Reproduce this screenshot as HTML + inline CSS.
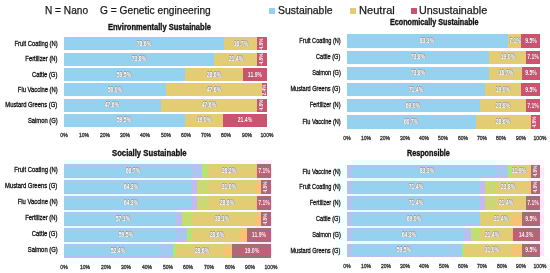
<!DOCTYPE html><html><head><meta charset="utf-8"><style>
html,body{margin:0;padding:0;background:#fff;width:550px;height:273px;overflow:hidden;position:relative;font-family:"Liberation Sans", sans-serif;}
.a{position:absolute;white-space:nowrap;line-height:1;}
.s{position:absolute;}
.v{position:absolute;white-space:nowrap;line-height:1;color:#fff;font-size:6.6px;font-weight:bold;text-shadow:0.4px 0 0 #959595,-0.4px 0 0 #959595,0 0.4px 0 #959595,0 -0.4px 0 #959595;}
.vr{color:#fff;text-shadow:0 0 0.5px #8a2a48;}
.cl{position:absolute;white-space:nowrap;line-height:1;color:#111;transform-origin:100% 50%;-webkit-text-stroke:0.3px #111;}
.ax{position:absolute;white-space:nowrap;line-height:1;color:#2a2a2a;font-size:6px;transform:translate(-50%,-50%) scaleX(0.84);-webkit-text-stroke:0.3px #2a2a2a;}
#w{position:absolute;left:0;top:0;width:550px;height:273px;filter:blur(0.35px);background:#fff;}
</style></head><body><div id="w">

<div class="a" style="left:45.19px;top:5.08px;font-size:10.72px;font-weight:normal;color:#1a1a1a;transform-origin:0 0;transform:scaleX(0.9437);-webkit-text-stroke:0.25px #1a1a1a;">N = Nano</div>
<div class="a" style="left:99.89px;top:5.08px;font-size:10.72px;font-weight:normal;color:#1a1a1a;transform-origin:0 0;transform:scaleX(0.9506);-webkit-text-stroke:0.25px #1a1a1a;">G = Genetic engineering</div>
<div class="s" style="left:269.00px;top:8.00px;width:6.00px;height:6.00px;background:#94d2f0"></div>
<div class="s" style="left:350.00px;top:8.00px;width:6.00px;height:6.00px;background:#e3cc74"></div>
<div class="s" style="left:411.00px;top:8.00px;width:6.00px;height:6.00px;background:#ca5370"></div>
<div class="a" style="left:277.68px;top:4.96px;font-size:10.87px;font-weight:normal;color:#1a1a1a;transform-origin:0 0;transform:scaleX(0.9612);-webkit-text-stroke:0.25px #1a1a1a;">Sustainable</div>
<div class="a" style="left:358.61px;top:4.96px;font-size:10.87px;font-weight:normal;color:#1a1a1a;transform-origin:0 0;transform:scaleX(1.0216);-webkit-text-stroke:0.25px #1a1a1a;">Neutral</div>
<div class="a" style="left:418.64px;top:4.96px;font-size:10.87px;font-weight:normal;color:#1a1a1a;transform-origin:0 0;transform:scaleX(0.9911);-webkit-text-stroke:0.25px #1a1a1a;">Unsustainable</div>
<div class="s" style="left:64.00px;top:37.30px;width:159.56px;height:13.20px;background:#94d2f0"></div>
<div class="s" style="left:223.56px;top:37.30px;width:33.90px;height:13.20px;background:#e3cc74"></div>
<div class="s" style="left:257.46px;top:37.30px;width:9.54px;height:13.20px;background:#ca5370"></div>
<div class="cl" style="right:492.60px;top:40.00px;font-size:7.0px;transform:scaleX(0.835);">Fruit Coating (N)</div>
<div class="v" style="left:143.78px;top:43.90px;transform:translate(-50%,-50%) scaleX(0.78)">78.6%</div>
<div class="v" style="left:240.51px;top:43.90px;transform:translate(-50%,-50%) scaleX(0.78)">16.7%</div>
<div class="v vr" style="left:262.23px;top:43.90px;transform:translate(-50%,-50%) rotate(-90deg) scaleX(0.85);font-size:5.6px">4.8%</div>
<div class="s" style="left:64.00px;top:52.60px;width:149.81px;height:13.20px;background:#94d2f0"></div>
<div class="s" style="left:213.81px;top:52.60px;width:43.44px;height:13.20px;background:#e3cc74"></div>
<div class="s" style="left:257.26px;top:52.60px;width:9.74px;height:13.20px;background:#ca5370"></div>
<div class="cl" style="right:492.60px;top:55.30px;font-size:7.0px;transform:scaleX(0.835);">Fertilizer (N)</div>
<div class="v" style="left:138.91px;top:59.20px;transform:translate(-50%,-50%) scaleX(0.78)">73.8%</div>
<div class="v" style="left:235.53px;top:59.20px;transform:translate(-50%,-50%) scaleX(0.78)">21.4%</div>
<div class="v vr" style="left:262.13px;top:59.20px;transform:translate(-50%,-50%) rotate(-90deg) scaleX(0.85);font-size:5.6px">4.8%</div>
<div class="s" style="left:64.00px;top:67.90px;width:120.78px;height:13.20px;background:#94d2f0"></div>
<div class="s" style="left:184.78px;top:67.90px;width:58.06px;height:13.20px;background:#e3cc74"></div>
<div class="s" style="left:242.84px;top:67.90px;width:24.16px;height:13.20px;background:#ca5370"></div>
<div class="cl" style="right:492.60px;top:70.60px;font-size:7.0px;transform:scaleX(0.835);">Cattle (G)</div>
<div class="v" style="left:124.39px;top:74.50px;transform:translate(-50%,-50%) scaleX(0.78)">59.5%</div>
<div class="v" style="left:213.81px;top:74.50px;transform:translate(-50%,-50%) scaleX(0.78)">28.6%</div>
<div class="v vr" style="left:254.92px;top:74.50px;transform:translate(-50%,-50%) scaleX(0.78)">11.9%</div>
<div class="s" style="left:64.00px;top:83.20px;width:101.50px;height:13.20px;background:#94d2f0"></div>
<div class="s" style="left:165.50px;top:83.20px;width:96.63px;height:13.20px;background:#e3cc74"></div>
<div class="s" style="left:262.13px;top:83.20px;width:4.87px;height:13.20px;background:#ca5370"></div>
<div class="cl" style="right:492.60px;top:85.90px;font-size:7.0px;transform:scaleX(0.835);">Flu Vaccine (N)</div>
<div class="v" style="left:114.75px;top:89.80px;transform:translate(-50%,-50%) scaleX(0.78)">50.0%</div>
<div class="v" style="left:213.81px;top:89.80px;transform:translate(-50%,-50%) scaleX(0.78)">47.6%</div>
<div class="v vr" style="left:264.56px;top:89.80px;transform:translate(-50%,-50%) rotate(-90deg) scaleX(0.85);font-size:5.6px">2.4%</div>
<div class="s" style="left:64.00px;top:98.50px;width:96.63px;height:13.20px;background:#94d2f0"></div>
<div class="s" style="left:160.63px;top:98.50px;width:96.63px;height:13.20px;background:#e3cc74"></div>
<div class="s" style="left:257.26px;top:98.50px;width:9.74px;height:13.20px;background:#ca5370"></div>
<div class="cl" style="right:492.60px;top:101.20px;font-size:7.0px;transform:scaleX(0.835);">Mustard Greens (G)</div>
<div class="v" style="left:112.31px;top:105.10px;transform:translate(-50%,-50%) scaleX(0.78)">47.6%</div>
<div class="v" style="left:208.94px;top:105.10px;transform:translate(-50%,-50%) scaleX(0.78)">47.6%</div>
<div class="v vr" style="left:262.13px;top:105.10px;transform:translate(-50%,-50%) rotate(-90deg) scaleX(0.85);font-size:5.6px">4.8%</div>
<div class="s" style="left:64.00px;top:113.80px;width:120.78px;height:13.20px;background:#94d2f0"></div>
<div class="s" style="left:184.78px;top:113.80px;width:38.57px;height:13.20px;background:#e3cc74"></div>
<div class="s" style="left:223.35px;top:113.80px;width:43.65px;height:13.20px;background:#ca5370"></div>
<div class="cl" style="right:492.60px;top:116.50px;font-size:7.0px;transform:scaleX(0.835);">Salmon (G)</div>
<div class="v" style="left:124.39px;top:120.40px;transform:translate(-50%,-50%) scaleX(0.78)">59.5%</div>
<div class="v" style="left:204.07px;top:120.40px;transform:translate(-50%,-50%) scaleX(0.78)">19.0%</div>
<div class="v vr" style="left:245.18px;top:120.40px;transform:translate(-50%,-50%) scaleX(0.78)">21.4%</div>
<div class="a" style="left:108.17px;top:22.79px;font-size:8.84px;font-weight:bold;color:#111;transform-origin:0 0;transform:scaleX(0.8527);-webkit-text-stroke:0.35px #111;">Environmentally Sustainable</div>
<div class="ax" style="left:64.00px;top:135.30px">0%</div>
<div class="ax" style="left:84.30px;top:135.30px">10%</div>
<div class="ax" style="left:104.60px;top:135.30px">20%</div>
<div class="ax" style="left:124.90px;top:135.30px">30%</div>
<div class="ax" style="left:145.20px;top:135.30px">40%</div>
<div class="ax" style="left:165.50px;top:135.30px">50%</div>
<div class="ax" style="left:185.80px;top:135.30px">60%</div>
<div class="ax" style="left:206.10px;top:135.30px">70%</div>
<div class="ax" style="left:226.40px;top:135.30px">80%</div>
<div class="ax" style="left:246.70px;top:135.30px">90%</div>
<div class="ax" style="left:267.00px;top:135.30px">100%</div>
<div class="s" style="left:346.70px;top:34.30px;width:161.02px;height:13.40px;background:#94d2f0"></div>
<div class="s" style="left:507.72px;top:34.30px;width:13.72px;height:13.40px;background:#e3cc74"></div>
<div class="s" style="left:521.44px;top:34.30px;width:18.56px;height:13.40px;background:#ca5370"></div>
<div class="cl" style="right:209.70px;top:36.50px;font-size:7.0px;transform:scaleX(0.8);">Fruit Coating (N)</div>
<div class="v" style="left:427.21px;top:41.00px;transform:translate(-50%,-50%) scaleX(0.78)">83.3%</div>
<div class="v" style="left:514.58px;top:41.00px;transform:translate(-50%,-50%) scaleX(0.78)">7.1%</div>
<div class="v vr" style="left:530.72px;top:41.00px;transform:translate(-50%,-50%) scaleX(0.78)">9.5%</div>
<div class="s" style="left:346.70px;top:50.50px;width:142.66px;height:13.40px;background:#94d2f0"></div>
<div class="s" style="left:489.36px;top:50.50px;width:36.73px;height:13.40px;background:#e3cc74"></div>
<div class="s" style="left:526.08px;top:50.50px;width:13.92px;height:13.40px;background:#ca5370"></div>
<div class="cl" style="right:209.70px;top:52.70px;font-size:7.0px;transform:scaleX(0.8);">Cattle (G)</div>
<div class="v" style="left:418.03px;top:57.20px;transform:translate(-50%,-50%) scaleX(0.78)">73.8%</div>
<div class="v" style="left:507.72px;top:57.20px;transform:translate(-50%,-50%) scaleX(0.78)">19.0%</div>
<div class="v vr" style="left:533.04px;top:57.20px;transform:translate(-50%,-50%) scaleX(0.78)">7.1%</div>
<div class="s" style="left:346.70px;top:66.70px;width:142.66px;height:13.40px;background:#94d2f0"></div>
<div class="s" style="left:489.36px;top:66.70px;width:32.28px;height:13.40px;background:#e3cc74"></div>
<div class="s" style="left:521.64px;top:66.70px;width:18.36px;height:13.40px;background:#ca5370"></div>
<div class="cl" style="right:209.70px;top:68.90px;font-size:7.0px;transform:scaleX(0.8);">Salmon (G)</div>
<div class="v" style="left:418.03px;top:73.40px;transform:translate(-50%,-50%) scaleX(0.78)">73.8%</div>
<div class="v" style="left:505.50px;top:73.40px;transform:translate(-50%,-50%) scaleX(0.78)">16.7%</div>
<div class="v vr" style="left:530.82px;top:73.40px;transform:translate(-50%,-50%) scaleX(0.78)">9.5%</div>
<div class="s" style="left:346.70px;top:82.90px;width:138.02px;height:13.40px;background:#94d2f0"></div>
<div class="s" style="left:484.72px;top:82.90px;width:36.73px;height:13.40px;background:#e3cc74"></div>
<div class="s" style="left:521.44px;top:82.90px;width:18.56px;height:13.40px;background:#ca5370"></div>
<div class="cl" style="right:209.70px;top:85.10px;font-size:7.0px;transform:scaleX(0.8);">Mustard Greens (G)</div>
<div class="v" style="left:415.71px;top:89.60px;transform:translate(-50%,-50%) scaleX(0.78)">71.4%</div>
<div class="v" style="left:503.08px;top:89.60px;transform:translate(-50%,-50%) scaleX(0.78)">19.0%</div>
<div class="v vr" style="left:530.72px;top:89.60px;transform:translate(-50%,-50%) scaleX(0.78)">9.5%</div>
<div class="s" style="left:346.70px;top:99.10px;width:133.38px;height:13.40px;background:#94d2f0"></div>
<div class="s" style="left:480.08px;top:99.10px;width:46.01px;height:13.40px;background:#e3cc74"></div>
<div class="s" style="left:526.08px;top:99.10px;width:13.92px;height:13.40px;background:#ca5370"></div>
<div class="cl" style="right:209.70px;top:101.30px;font-size:7.0px;transform:scaleX(0.8);">Fertilizer (N)</div>
<div class="v" style="left:413.39px;top:105.80px;transform:translate(-50%,-50%) scaleX(0.78)">69.0%</div>
<div class="v" style="left:503.08px;top:105.80px;transform:translate(-50%,-50%) scaleX(0.78)">23.8%</div>
<div class="v vr" style="left:533.04px;top:105.80px;transform:translate(-50%,-50%) scaleX(0.78)">7.1%</div>
<div class="s" style="left:346.70px;top:115.30px;width:128.93px;height:13.40px;background:#94d2f0"></div>
<div class="s" style="left:475.63px;top:115.30px;width:55.28px;height:13.40px;background:#e3cc74"></div>
<div class="s" style="left:530.91px;top:115.30px;width:9.09px;height:13.40px;background:#ca5370"></div>
<div class="cl" style="right:209.70px;top:117.50px;font-size:7.0px;transform:scaleX(0.8);">Flu Vaccine (N)</div>
<div class="v" style="left:411.17px;top:122.00px;transform:translate(-50%,-50%) scaleX(0.78)">66.7%</div>
<div class="v" style="left:503.27px;top:122.00px;transform:translate(-50%,-50%) scaleX(0.78)">28.6%</div>
<div class="v vr" style="left:535.46px;top:122.00px;transform:translate(-50%,-50%) rotate(-90deg) scaleX(0.85);font-size:5.6px">4.8%</div>
<div class="a" style="left:390.00px;top:18.41px;font-size:8.70px;font-weight:bold;color:#111;transform-origin:0 0;transform:scaleX(0.8265);-webkit-text-stroke:0.35px #111;">Economically Sustainable</div>
<div class="ax" style="left:346.70px;top:137.60px">0%</div>
<div class="ax" style="left:366.03px;top:137.60px">10%</div>
<div class="ax" style="left:385.36px;top:137.60px">20%</div>
<div class="ax" style="left:404.69px;top:137.60px">30%</div>
<div class="ax" style="left:424.02px;top:137.60px">40%</div>
<div class="ax" style="left:443.35px;top:137.60px">50%</div>
<div class="ax" style="left:462.68px;top:137.60px">60%</div>
<div class="ax" style="left:482.01px;top:137.60px">70%</div>
<div class="ax" style="left:501.34px;top:137.60px">80%</div>
<div class="ax" style="left:520.67px;top:137.60px">90%</div>
<div class="ax" style="left:540.00px;top:137.60px">100%</div>
<div class="s" style="left:64.10px;top:164.30px;width:138.14px;height:13.30px;background:#94d2f0"></div>
<div class="s" style="left:202.24px;top:164.30px;width:54.26px;height:13.30px;background:#e3cc74"></div>
<div class="s" style="left:256.50px;top:164.30px;width:14.70px;height:13.30px;background:#c65c76"></div>
<div class="s" style="left:64.10px;top:180.30px;width:133.17px;height:13.30px;background:#94d2f0"></div>
<div class="s" style="left:197.27px;top:180.30px;width:64.20px;height:13.30px;background:#e3cc74"></div>
<div class="s" style="left:261.47px;top:180.30px;width:9.73px;height:13.30px;background:#c65c76"></div>
<div class="s" style="left:64.10px;top:196.30px;width:133.17px;height:13.30px;background:#94d2f0"></div>
<div class="s" style="left:197.27px;top:196.30px;width:59.23px;height:13.30px;background:#e3cc74"></div>
<div class="s" style="left:256.50px;top:196.30px;width:14.70px;height:13.30px;background:#c65c76"></div>
<div class="s" style="left:64.10px;top:212.30px;width:118.25px;height:13.30px;background:#94d2f0"></div>
<div class="s" style="left:182.35px;top:212.30px;width:78.91px;height:13.30px;background:#e3cc74"></div>
<div class="s" style="left:261.26px;top:212.30px;width:9.94px;height:13.30px;background:#c65c76"></div>
<div class="s" style="left:64.10px;top:228.30px;width:123.22px;height:13.30px;background:#94d2f0"></div>
<div class="s" style="left:187.32px;top:228.30px;width:59.23px;height:13.30px;background:#e3cc74"></div>
<div class="s" style="left:246.56px;top:228.30px;width:24.64px;height:13.30px;background:#c65c76"></div>
<div class="s" style="left:64.10px;top:244.30px;width:108.52px;height:13.30px;background:#94d2f0"></div>
<div class="s" style="left:172.62px;top:244.30px;width:59.23px;height:13.30px;background:#e3cc74"></div>
<div class="s" style="left:231.85px;top:244.30px;width:39.35px;height:13.30px;background:#c65c76"></div>
<div class="s" style="left:64.00px;top:160.00px;width:16.00px;height:8.00px;background:#e9ffff"></div>
<div class="s" style="left:64.10px;top:164.30px;width:15.90px;height:3.70px;background:#adc5f0"></div>
<div class="s" style="left:80.00px;top:160.00px;width:16.00px;height:8.00px;background:#e9ffff"></div>
<div class="s" style="left:80.00px;top:164.30px;width:16.00px;height:3.70px;background:#adc5f0"></div>
<div class="s" style="left:96.00px;top:160.00px;width:16.00px;height:8.00px;background:#e9ffff"></div>
<div class="s" style="left:96.00px;top:164.30px;width:16.00px;height:3.70px;background:#adc5f0"></div>
<div class="s" style="left:112.00px;top:160.00px;width:16.00px;height:8.00px;background:#e9ffff"></div>
<div class="s" style="left:112.00px;top:164.30px;width:16.00px;height:3.70px;background:#adc5f0"></div>
<div class="s" style="left:128.00px;top:160.00px;width:16.00px;height:8.00px;background:#e9ffff"></div>
<div class="s" style="left:128.00px;top:164.30px;width:16.00px;height:3.70px;background:#adc5f0"></div>
<div class="s" style="left:144.00px;top:160.00px;width:16.00px;height:8.00px;background:#e9ffff"></div>
<div class="s" style="left:144.00px;top:164.30px;width:16.00px;height:3.70px;background:#adc5f0"></div>
<div class="s" style="left:160.00px;top:160.00px;width:16.00px;height:8.00px;background:#e9ffff"></div>
<div class="s" style="left:160.00px;top:164.30px;width:16.00px;height:3.70px;background:#adc5f0"></div>
<div class="s" style="left:176.00px;top:160.00px;width:16.00px;height:8.00px;background:#e9ffff"></div>
<div class="s" style="left:176.00px;top:164.30px;width:16.00px;height:3.70px;background:#adc5f0"></div>
<div class="s" style="left:192.00px;top:160.00px;width:16.00px;height:8.00px;background:#f5ffff"></div>
<div class="s" style="left:192.00px;top:164.30px;width:10.24px;height:3.70px;background:#b9bff0"></div>
<div class="s" style="left:202.24px;top:164.30px;width:5.76px;height:3.70px;background:#bfde74"></div>
<div class="s" style="left:208.00px;top:160.00px;width:16.00px;height:8.00px;background:#fff9ff"></div>
<div class="s" style="left:208.00px;top:164.30px;width:16.00px;height:3.70px;background:#d5d374"></div>
<div class="s" style="left:224.00px;top:160.00px;width:16.00px;height:8.00px;background:#fff9ff"></div>
<div class="s" style="left:224.00px;top:164.30px;width:16.00px;height:3.70px;background:#d5d374"></div>
<div class="s" style="left:240.00px;top:160.00px;width:16.00px;height:8.00px;background:#fff9ff"></div>
<div class="s" style="left:240.00px;top:164.30px;width:16.00px;height:3.70px;background:#d5d374"></div>
<div class="s" style="left:256.00px;top:160.00px;width:16.00px;height:8.00px;background:#ffefff"></div>
<div class="s" style="left:256.00px;top:164.30px;width:0.50px;height:3.70px;background:#e8ca74"></div>
<div class="s" style="left:256.50px;top:164.30px;width:14.70px;height:3.70px;background:#9d7176"></div>
<div class="s" style="left:64.00px;top:168.00px;width:16.00px;height:8.00px;background:#d0ffff"></div>
<div class="s" style="left:64.10px;top:168.00px;width:15.90px;height:8.00px;background:#94d2f0"></div>
<div class="s" style="left:192.00px;top:168.00px;width:10.24px;height:8.00px;background:#aec5f0"></div>
<div class="s" style="left:202.24px;top:168.00px;width:5.76px;height:8.00px;background:#b4e474"></div>
<div class="s" style="left:256.00px;top:168.00px;width:16.00px;height:8.00px;background:#ffddff"></div>
<div class="s" style="left:256.00px;top:168.00px;width:0.50px;height:8.00px;background:#ffb874"></div>
<div class="s" style="left:256.50px;top:168.00px;width:14.70px;height:8.00px;background:#c15f76"></div>
<div class="s" style="left:64.00px;top:176.00px;width:16.00px;height:8.00px;background:#e0ffff"></div>
<div class="s" style="left:64.10px;top:176.00px;width:15.90px;height:1.60px;background:#a4caf0"></div>
<div class="s" style="left:64.10px;top:180.30px;width:15.90px;height:3.70px;background:#a4caf0"></div>
<div class="s" style="left:80.00px;top:176.00px;width:16.00px;height:8.00px;background:#e0ffff"></div>
<div class="s" style="left:80.00px;top:176.00px;width:16.00px;height:1.60px;background:#a4caf0"></div>
<div class="s" style="left:80.00px;top:180.30px;width:16.00px;height:3.70px;background:#a4caf0"></div>
<div class="s" style="left:96.00px;top:176.00px;width:16.00px;height:8.00px;background:#e0ffff"></div>
<div class="s" style="left:96.00px;top:176.00px;width:16.00px;height:1.60px;background:#a4caf0"></div>
<div class="s" style="left:96.00px;top:180.30px;width:16.00px;height:3.70px;background:#a4caf0"></div>
<div class="s" style="left:112.00px;top:176.00px;width:16.00px;height:8.00px;background:#e0ffff"></div>
<div class="s" style="left:112.00px;top:176.00px;width:16.00px;height:1.60px;background:#a4caf0"></div>
<div class="s" style="left:112.00px;top:180.30px;width:16.00px;height:3.70px;background:#a4caf0"></div>
<div class="s" style="left:128.00px;top:176.00px;width:16.00px;height:8.00px;background:#e0ffff"></div>
<div class="s" style="left:128.00px;top:176.00px;width:16.00px;height:1.60px;background:#a4caf0"></div>
<div class="s" style="left:128.00px;top:180.30px;width:16.00px;height:3.70px;background:#a4caf0"></div>
<div class="s" style="left:144.00px;top:176.00px;width:16.00px;height:8.00px;background:#e0ffff"></div>
<div class="s" style="left:144.00px;top:176.00px;width:16.00px;height:1.60px;background:#a4caf0"></div>
<div class="s" style="left:144.00px;top:180.30px;width:16.00px;height:3.70px;background:#a4caf0"></div>
<div class="s" style="left:160.00px;top:176.00px;width:16.00px;height:8.00px;background:#e0ffff"></div>
<div class="s" style="left:160.00px;top:176.00px;width:16.00px;height:1.60px;background:#a4caf0"></div>
<div class="s" style="left:160.00px;top:180.30px;width:16.00px;height:3.70px;background:#a4caf0"></div>
<div class="s" style="left:176.00px;top:176.00px;width:16.00px;height:8.00px;background:#e0ffff"></div>
<div class="s" style="left:176.00px;top:176.00px;width:16.00px;height:1.60px;background:#a4caf0"></div>
<div class="s" style="left:176.00px;top:180.30px;width:16.00px;height:3.70px;background:#a4caf0"></div>
<div class="s" style="left:192.00px;top:176.00px;width:16.00px;height:8.00px;background:#fcffff"></div>
<div class="s" style="left:192.00px;top:176.00px;width:10.24px;height:1.60px;background:#c0bcf0"></div>
<div class="s" style="left:202.24px;top:176.00px;width:5.76px;height:1.60px;background:#c6db74"></div>
<div class="s" style="left:192.00px;top:180.30px;width:5.27px;height:3.70px;background:#c0bcf0"></div>
<div class="s" style="left:197.27px;top:180.30px;width:10.73px;height:3.70px;background:#c6db74"></div>
<div class="s" style="left:208.00px;top:176.00px;width:16.00px;height:8.00px;background:#fff6ff"></div>
<div class="s" style="left:208.00px;top:176.00px;width:16.00px;height:1.60px;background:#dad074"></div>
<div class="s" style="left:208.00px;top:180.30px;width:16.00px;height:3.70px;background:#dad074"></div>
<div class="s" style="left:224.00px;top:176.00px;width:16.00px;height:8.00px;background:#fff6ff"></div>
<div class="s" style="left:224.00px;top:176.00px;width:16.00px;height:1.60px;background:#dad074"></div>
<div class="s" style="left:224.00px;top:180.30px;width:16.00px;height:3.70px;background:#dad074"></div>
<div class="s" style="left:240.00px;top:176.00px;width:16.00px;height:8.00px;background:#fff6ff"></div>
<div class="s" style="left:240.00px;top:176.00px;width:16.00px;height:1.60px;background:#dad074"></div>
<div class="s" style="left:240.00px;top:180.30px;width:16.00px;height:3.70px;background:#dad074"></div>
<div class="s" style="left:256.00px;top:176.00px;width:16.00px;height:8.00px;background:#ffecff"></div>
<div class="s" style="left:256.00px;top:176.00px;width:0.50px;height:1.60px;background:#eec674"></div>
<div class="s" style="left:256.50px;top:176.00px;width:14.70px;height:1.60px;background:#a46d76"></div>
<div class="s" style="left:256.00px;top:180.30px;width:5.47px;height:3.70px;background:#eec674"></div>
<div class="s" style="left:261.47px;top:180.30px;width:9.73px;height:3.70px;background:#a46d76"></div>
<div class="s" style="left:64.00px;top:184.00px;width:16.00px;height:8.00px;background:#d0ffff"></div>
<div class="s" style="left:64.10px;top:184.00px;width:15.90px;height:8.00px;background:#94d2f0"></div>
<div class="s" style="left:192.00px;top:184.00px;width:5.27px;height:8.00px;background:#c5b9f0"></div>
<div class="s" style="left:197.27px;top:184.00px;width:10.73px;height:8.00px;background:#cbd874"></div>
<div class="s" style="left:256.00px;top:184.00px;width:16.00px;height:8.00px;background:#ffe4ff"></div>
<div class="s" style="left:256.00px;top:184.00px;width:5.47px;height:8.00px;background:#fdbf74"></div>
<div class="s" style="left:261.47px;top:184.00px;width:9.73px;height:8.00px;background:#b36676"></div>
<div class="s" style="left:64.00px;top:192.00px;width:16.00px;height:8.00px;background:#e0ffff"></div>
<div class="s" style="left:64.10px;top:192.00px;width:15.90px;height:1.60px;background:#a4caf0"></div>
<div class="s" style="left:64.10px;top:196.30px;width:15.90px;height:3.70px;background:#a4caf0"></div>
<div class="s" style="left:80.00px;top:192.00px;width:16.00px;height:8.00px;background:#e0ffff"></div>
<div class="s" style="left:80.00px;top:192.00px;width:16.00px;height:1.60px;background:#a4caf0"></div>
<div class="s" style="left:80.00px;top:196.30px;width:16.00px;height:3.70px;background:#a4caf0"></div>
<div class="s" style="left:96.00px;top:192.00px;width:16.00px;height:8.00px;background:#e0ffff"></div>
<div class="s" style="left:96.00px;top:192.00px;width:16.00px;height:1.60px;background:#a4caf0"></div>
<div class="s" style="left:96.00px;top:196.30px;width:16.00px;height:3.70px;background:#a4caf0"></div>
<div class="s" style="left:112.00px;top:192.00px;width:16.00px;height:8.00px;background:#e0ffff"></div>
<div class="s" style="left:112.00px;top:192.00px;width:16.00px;height:1.60px;background:#a4caf0"></div>
<div class="s" style="left:112.00px;top:196.30px;width:16.00px;height:3.70px;background:#a4caf0"></div>
<div class="s" style="left:128.00px;top:192.00px;width:16.00px;height:8.00px;background:#e0ffff"></div>
<div class="s" style="left:128.00px;top:192.00px;width:16.00px;height:1.60px;background:#a4caf0"></div>
<div class="s" style="left:128.00px;top:196.30px;width:16.00px;height:3.70px;background:#a4caf0"></div>
<div class="s" style="left:144.00px;top:192.00px;width:16.00px;height:8.00px;background:#e0ffff"></div>
<div class="s" style="left:144.00px;top:192.00px;width:16.00px;height:1.60px;background:#a4caf0"></div>
<div class="s" style="left:144.00px;top:196.30px;width:16.00px;height:3.70px;background:#a4caf0"></div>
<div class="s" style="left:160.00px;top:192.00px;width:16.00px;height:8.00px;background:#e0ffff"></div>
<div class="s" style="left:160.00px;top:192.00px;width:16.00px;height:1.60px;background:#a4caf0"></div>
<div class="s" style="left:160.00px;top:196.30px;width:16.00px;height:3.70px;background:#a4caf0"></div>
<div class="s" style="left:176.00px;top:192.00px;width:16.00px;height:8.00px;background:#e0ffff"></div>
<div class="s" style="left:176.00px;top:192.00px;width:16.00px;height:1.60px;background:#a4caf0"></div>
<div class="s" style="left:176.00px;top:196.30px;width:16.00px;height:3.70px;background:#a4caf0"></div>
<div class="s" style="left:192.00px;top:192.00px;width:16.00px;height:8.00px;background:#fffeff"></div>
<div class="s" style="left:192.00px;top:192.00px;width:5.27px;height:1.60px;background:#c4b9f0"></div>
<div class="s" style="left:197.27px;top:192.00px;width:10.73px;height:1.60px;background:#cad974"></div>
<div class="s" style="left:192.00px;top:196.30px;width:5.27px;height:3.70px;background:#c4b9f0"></div>
<div class="s" style="left:197.27px;top:196.30px;width:10.73px;height:3.70px;background:#cad974"></div>
<div class="s" style="left:208.00px;top:192.00px;width:16.00px;height:8.00px;background:#fff6ff"></div>
<div class="s" style="left:208.00px;top:192.00px;width:16.00px;height:1.60px;background:#dad074"></div>
<div class="s" style="left:208.00px;top:196.30px;width:16.00px;height:3.70px;background:#dad074"></div>
<div class="s" style="left:224.00px;top:192.00px;width:16.00px;height:8.00px;background:#fff6ff"></div>
<div class="s" style="left:224.00px;top:192.00px;width:16.00px;height:1.60px;background:#dad074"></div>
<div class="s" style="left:224.00px;top:196.30px;width:16.00px;height:3.70px;background:#dad074"></div>
<div class="s" style="left:240.00px;top:192.00px;width:16.00px;height:8.00px;background:#fff6ff"></div>
<div class="s" style="left:240.00px;top:192.00px;width:16.00px;height:1.60px;background:#dad074"></div>
<div class="s" style="left:240.00px;top:196.30px;width:16.00px;height:3.70px;background:#dad074"></div>
<div class="s" style="left:256.00px;top:192.00px;width:16.00px;height:8.00px;background:#ffeaff"></div>
<div class="s" style="left:256.00px;top:192.00px;width:5.47px;height:1.60px;background:#f2c474"></div>
<div class="s" style="left:261.47px;top:192.00px;width:9.73px;height:1.60px;background:#a86b76"></div>
<div class="s" style="left:256.00px;top:196.30px;width:0.50px;height:3.70px;background:#f2c474"></div>
<div class="s" style="left:256.50px;top:196.30px;width:14.70px;height:3.70px;background:#a86b76"></div>
<div class="s" style="left:64.00px;top:200.00px;width:16.00px;height:8.00px;background:#d0ffff"></div>
<div class="s" style="left:64.10px;top:200.00px;width:15.90px;height:8.00px;background:#94d2f0"></div>
<div class="s" style="left:192.00px;top:200.00px;width:5.27px;height:8.00px;background:#c5b9f0"></div>
<div class="s" style="left:197.27px;top:200.00px;width:10.73px;height:8.00px;background:#cbd874"></div>
<div class="s" style="left:256.00px;top:200.00px;width:16.00px;height:8.00px;background:#ffddff"></div>
<div class="s" style="left:256.00px;top:200.00px;width:0.50px;height:8.00px;background:#ffb874"></div>
<div class="s" style="left:256.50px;top:200.00px;width:14.70px;height:8.00px;background:#c15f76"></div>
<div class="s" style="left:64.00px;top:208.00px;width:16.00px;height:8.00px;background:#e0ffff"></div>
<div class="s" style="left:64.10px;top:208.00px;width:15.90px;height:1.60px;background:#a4caf0"></div>
<div class="s" style="left:64.10px;top:212.30px;width:15.90px;height:3.70px;background:#a4caf0"></div>
<div class="s" style="left:80.00px;top:208.00px;width:16.00px;height:8.00px;background:#e0ffff"></div>
<div class="s" style="left:80.00px;top:208.00px;width:16.00px;height:1.60px;background:#a4caf0"></div>
<div class="s" style="left:80.00px;top:212.30px;width:16.00px;height:3.70px;background:#a4caf0"></div>
<div class="s" style="left:96.00px;top:208.00px;width:16.00px;height:8.00px;background:#e0ffff"></div>
<div class="s" style="left:96.00px;top:208.00px;width:16.00px;height:1.60px;background:#a4caf0"></div>
<div class="s" style="left:96.00px;top:212.30px;width:16.00px;height:3.70px;background:#a4caf0"></div>
<div class="s" style="left:112.00px;top:208.00px;width:16.00px;height:8.00px;background:#e0ffff"></div>
<div class="s" style="left:112.00px;top:208.00px;width:16.00px;height:1.60px;background:#a4caf0"></div>
<div class="s" style="left:112.00px;top:212.30px;width:16.00px;height:3.70px;background:#a4caf0"></div>
<div class="s" style="left:128.00px;top:208.00px;width:16.00px;height:8.00px;background:#e0ffff"></div>
<div class="s" style="left:128.00px;top:208.00px;width:16.00px;height:1.60px;background:#a4caf0"></div>
<div class="s" style="left:128.00px;top:212.30px;width:16.00px;height:3.70px;background:#a4caf0"></div>
<div class="s" style="left:144.00px;top:208.00px;width:16.00px;height:8.00px;background:#e0ffff"></div>
<div class="s" style="left:144.00px;top:208.00px;width:16.00px;height:1.60px;background:#a4caf0"></div>
<div class="s" style="left:144.00px;top:212.30px;width:16.00px;height:3.70px;background:#a4caf0"></div>
<div class="s" style="left:160.00px;top:208.00px;width:16.00px;height:8.00px;background:#e0ffff"></div>
<div class="s" style="left:160.00px;top:208.00px;width:16.00px;height:1.60px;background:#a4caf0"></div>
<div class="s" style="left:160.00px;top:212.30px;width:16.00px;height:3.70px;background:#a4caf0"></div>
<div class="s" style="left:176.00px;top:208.00px;width:16.00px;height:8.00px;background:#f4ffff"></div>
<div class="s" style="left:176.00px;top:208.00px;width:16.00px;height:1.60px;background:#b8c0f0"></div>
<div class="s" style="left:176.00px;top:212.30px;width:6.35px;height:3.70px;background:#b8c0f0"></div>
<div class="s" style="left:182.35px;top:212.30px;width:9.65px;height:3.70px;background:#bedf74"></div>
<div class="s" style="left:192.00px;top:208.00px;width:16.00px;height:8.00px;background:#fff9ff"></div>
<div class="s" style="left:192.00px;top:208.00px;width:5.27px;height:1.60px;background:#cfb4f0"></div>
<div class="s" style="left:197.27px;top:208.00px;width:10.73px;height:1.60px;background:#d5d374"></div>
<div class="s" style="left:192.00px;top:212.30px;width:16.00px;height:3.70px;background:#d5d374"></div>
<div class="s" style="left:208.00px;top:208.00px;width:16.00px;height:8.00px;background:#fff6ff"></div>
<div class="s" style="left:208.00px;top:208.00px;width:16.00px;height:1.60px;background:#dad074"></div>
<div class="s" style="left:208.00px;top:212.30px;width:16.00px;height:3.70px;background:#dad074"></div>
<div class="s" style="left:224.00px;top:208.00px;width:16.00px;height:8.00px;background:#fff6ff"></div>
<div class="s" style="left:224.00px;top:208.00px;width:16.00px;height:1.60px;background:#dad074"></div>
<div class="s" style="left:224.00px;top:212.30px;width:16.00px;height:3.70px;background:#dad074"></div>
<div class="s" style="left:240.00px;top:208.00px;width:16.00px;height:8.00px;background:#fff6ff"></div>
<div class="s" style="left:240.00px;top:208.00px;width:16.00px;height:1.60px;background:#dad074"></div>
<div class="s" style="left:240.00px;top:212.30px;width:16.00px;height:3.70px;background:#dad074"></div>
<div class="s" style="left:256.00px;top:208.00px;width:16.00px;height:8.00px;background:#ffecff"></div>
<div class="s" style="left:256.00px;top:208.00px;width:0.50px;height:1.60px;background:#efc674"></div>
<div class="s" style="left:256.50px;top:208.00px;width:14.70px;height:1.60px;background:#a46d76"></div>
<div class="s" style="left:256.00px;top:212.30px;width:5.26px;height:3.70px;background:#efc674"></div>
<div class="s" style="left:261.26px;top:212.30px;width:9.94px;height:3.70px;background:#a46d76"></div>
<div class="s" style="left:64.00px;top:216.00px;width:16.00px;height:8.00px;background:#d0ffff"></div>
<div class="s" style="left:64.10px;top:216.00px;width:15.90px;height:8.00px;background:#94d2f0"></div>
<div class="s" style="left:176.00px;top:216.00px;width:6.35px;height:8.00px;background:#c0bcf0"></div>
<div class="s" style="left:182.35px;top:216.00px;width:9.65px;height:8.00px;background:#c6db74"></div>
<div class="s" style="left:256.00px;top:216.00px;width:16.00px;height:8.00px;background:#ffe4ff"></div>
<div class="s" style="left:256.00px;top:216.00px;width:5.26px;height:8.00px;background:#febe74"></div>
<div class="s" style="left:261.26px;top:216.00px;width:9.94px;height:8.00px;background:#b46576"></div>
<div class="s" style="left:64.00px;top:224.00px;width:16.00px;height:8.00px;background:#e0ffff"></div>
<div class="s" style="left:64.10px;top:224.00px;width:15.90px;height:1.60px;background:#a4caf0"></div>
<div class="s" style="left:64.10px;top:228.30px;width:15.90px;height:3.70px;background:#a4caf0"></div>
<div class="s" style="left:80.00px;top:224.00px;width:16.00px;height:8.00px;background:#e0ffff"></div>
<div class="s" style="left:80.00px;top:224.00px;width:16.00px;height:1.60px;background:#a4caf0"></div>
<div class="s" style="left:80.00px;top:228.30px;width:16.00px;height:3.70px;background:#a4caf0"></div>
<div class="s" style="left:96.00px;top:224.00px;width:16.00px;height:8.00px;background:#e0ffff"></div>
<div class="s" style="left:96.00px;top:224.00px;width:16.00px;height:1.60px;background:#a4caf0"></div>
<div class="s" style="left:96.00px;top:228.30px;width:16.00px;height:3.70px;background:#a4caf0"></div>
<div class="s" style="left:112.00px;top:224.00px;width:16.00px;height:8.00px;background:#e0ffff"></div>
<div class="s" style="left:112.00px;top:224.00px;width:16.00px;height:1.60px;background:#a4caf0"></div>
<div class="s" style="left:112.00px;top:228.30px;width:16.00px;height:3.70px;background:#a4caf0"></div>
<div class="s" style="left:128.00px;top:224.00px;width:16.00px;height:8.00px;background:#e0ffff"></div>
<div class="s" style="left:128.00px;top:224.00px;width:16.00px;height:1.60px;background:#a4caf0"></div>
<div class="s" style="left:128.00px;top:228.30px;width:16.00px;height:3.70px;background:#a4caf0"></div>
<div class="s" style="left:144.00px;top:224.00px;width:16.00px;height:8.00px;background:#e0ffff"></div>
<div class="s" style="left:144.00px;top:224.00px;width:16.00px;height:1.60px;background:#a4caf0"></div>
<div class="s" style="left:144.00px;top:228.30px;width:16.00px;height:3.70px;background:#a4caf0"></div>
<div class="s" style="left:160.00px;top:224.00px;width:16.00px;height:8.00px;background:#e0ffff"></div>
<div class="s" style="left:160.00px;top:224.00px;width:16.00px;height:1.60px;background:#a4caf0"></div>
<div class="s" style="left:160.00px;top:228.30px;width:16.00px;height:3.70px;background:#a4caf0"></div>
<div class="s" style="left:176.00px;top:224.00px;width:16.00px;height:8.00px;background:#f3ffff"></div>
<div class="s" style="left:176.00px;top:224.00px;width:6.35px;height:1.60px;background:#b6c0f0"></div>
<div class="s" style="left:182.35px;top:224.00px;width:9.65px;height:1.60px;background:#bce074"></div>
<div class="s" style="left:176.00px;top:228.30px;width:11.32px;height:3.70px;background:#b6c0f0"></div>
<div class="s" style="left:187.32px;top:228.30px;width:4.68px;height:3.70px;background:#bce074"></div>
<div class="s" style="left:192.00px;top:224.00px;width:16.00px;height:8.00px;background:#fff6ff"></div>
<div class="s" style="left:192.00px;top:224.00px;width:16.00px;height:1.60px;background:#dad074"></div>
<div class="s" style="left:192.00px;top:228.30px;width:16.00px;height:3.70px;background:#dad074"></div>
<div class="s" style="left:208.00px;top:224.00px;width:16.00px;height:8.00px;background:#fff6ff"></div>
<div class="s" style="left:208.00px;top:224.00px;width:16.00px;height:1.60px;background:#dad074"></div>
<div class="s" style="left:208.00px;top:228.30px;width:16.00px;height:3.70px;background:#dad074"></div>
<div class="s" style="left:224.00px;top:224.00px;width:16.00px;height:8.00px;background:#fff6ff"></div>
<div class="s" style="left:224.00px;top:224.00px;width:16.00px;height:1.60px;background:#dad074"></div>
<div class="s" style="left:224.00px;top:228.30px;width:16.00px;height:3.70px;background:#dad074"></div>
<div class="s" style="left:240.00px;top:224.00px;width:16.00px;height:8.00px;background:#fff0ff"></div>
<div class="s" style="left:240.00px;top:224.00px;width:16.00px;height:1.60px;background:#e7ca74"></div>
<div class="s" style="left:240.00px;top:228.30px;width:6.56px;height:3.70px;background:#e7ca74"></div>
<div class="s" style="left:246.56px;top:228.30px;width:9.44px;height:3.70px;background:#9c7176"></div>
<div class="s" style="left:256.00px;top:224.00px;width:16.00px;height:8.00px;background:#ffeaff"></div>
<div class="s" style="left:256.00px;top:224.00px;width:5.26px;height:1.60px;background:#f3c474"></div>
<div class="s" style="left:261.26px;top:224.00px;width:9.94px;height:1.60px;background:#a96b76"></div>
<div class="s" style="left:256.00px;top:228.30px;width:15.20px;height:3.70px;background:#a96b76"></div>
<div class="s" style="left:64.00px;top:232.00px;width:16.00px;height:8.00px;background:#d0ffff"></div>
<div class="s" style="left:64.10px;top:232.00px;width:15.90px;height:8.00px;background:#94d2f0"></div>
<div class="s" style="left:176.00px;top:232.00px;width:11.32px;height:8.00px;background:#a9c7f0"></div>
<div class="s" style="left:187.32px;top:232.00px;width:4.68px;height:8.00px;background:#afe674"></div>
<div class="s" style="left:240.00px;top:232.00px;width:6.56px;height:8.00px;background:#febe74"></div>
<div class="s" style="left:246.56px;top:232.00px;width:9.44px;height:8.00px;background:#b46576"></div>
<div class="s" style="left:256.00px;top:232.00px;width:16.00px;height:8.00px;background:#ffdcff"></div>
<div class="s" style="left:256.00px;top:232.00px;width:15.20px;height:8.00px;background:#c25e76"></div>
<div class="s" style="left:64.00px;top:240.00px;width:16.00px;height:8.00px;background:#e0ffff"></div>
<div class="s" style="left:64.10px;top:240.00px;width:15.90px;height:1.60px;background:#a4caf0"></div>
<div class="s" style="left:64.10px;top:244.30px;width:15.90px;height:3.70px;background:#a4caf0"></div>
<div class="s" style="left:80.00px;top:240.00px;width:16.00px;height:8.00px;background:#e0ffff"></div>
<div class="s" style="left:80.00px;top:240.00px;width:16.00px;height:1.60px;background:#a4caf0"></div>
<div class="s" style="left:80.00px;top:244.30px;width:16.00px;height:3.70px;background:#a4caf0"></div>
<div class="s" style="left:96.00px;top:240.00px;width:16.00px;height:8.00px;background:#e0ffff"></div>
<div class="s" style="left:96.00px;top:240.00px;width:16.00px;height:1.60px;background:#a4caf0"></div>
<div class="s" style="left:96.00px;top:244.30px;width:16.00px;height:3.70px;background:#a4caf0"></div>
<div class="s" style="left:112.00px;top:240.00px;width:16.00px;height:8.00px;background:#e0ffff"></div>
<div class="s" style="left:112.00px;top:240.00px;width:16.00px;height:1.60px;background:#a4caf0"></div>
<div class="s" style="left:112.00px;top:244.30px;width:16.00px;height:3.70px;background:#a4caf0"></div>
<div class="s" style="left:128.00px;top:240.00px;width:16.00px;height:8.00px;background:#e0ffff"></div>
<div class="s" style="left:128.00px;top:240.00px;width:16.00px;height:1.60px;background:#a4caf0"></div>
<div class="s" style="left:128.00px;top:244.30px;width:16.00px;height:3.70px;background:#a4caf0"></div>
<div class="s" style="left:144.00px;top:240.00px;width:16.00px;height:8.00px;background:#e0ffff"></div>
<div class="s" style="left:144.00px;top:240.00px;width:16.00px;height:1.60px;background:#a4caf0"></div>
<div class="s" style="left:144.00px;top:244.30px;width:16.00px;height:3.70px;background:#a4caf0"></div>
<div class="s" style="left:160.00px;top:240.00px;width:16.00px;height:8.00px;background:#e7ffff"></div>
<div class="s" style="left:160.00px;top:240.00px;width:16.00px;height:1.60px;background:#abc6f0"></div>
<div class="s" style="left:160.00px;top:244.30px;width:12.62px;height:3.70px;background:#abc6f0"></div>
<div class="s" style="left:172.62px;top:244.30px;width:3.38px;height:3.70px;background:#b1e574"></div>
<div class="s" style="left:176.00px;top:240.00px;width:16.00px;height:8.00px;background:#fffbff"></div>
<div class="s" style="left:176.00px;top:240.00px;width:11.32px;height:1.60px;background:#cab7f0"></div>
<div class="s" style="left:187.32px;top:240.00px;width:4.68px;height:1.60px;background:#d0d674"></div>
<div class="s" style="left:176.00px;top:244.30px;width:16.00px;height:3.70px;background:#d0d674"></div>
<div class="s" style="left:192.00px;top:240.00px;width:16.00px;height:8.00px;background:#fff6ff"></div>
<div class="s" style="left:192.00px;top:240.00px;width:16.00px;height:1.60px;background:#dad074"></div>
<div class="s" style="left:192.00px;top:244.30px;width:16.00px;height:3.70px;background:#dad074"></div>
<div class="s" style="left:208.00px;top:240.00px;width:16.00px;height:8.00px;background:#fff6ff"></div>
<div class="s" style="left:208.00px;top:240.00px;width:16.00px;height:1.60px;background:#dad074"></div>
<div class="s" style="left:208.00px;top:244.30px;width:16.00px;height:3.70px;background:#dad074"></div>
<div class="s" style="left:224.00px;top:240.00px;width:16.00px;height:8.00px;background:#fff1ff"></div>
<div class="s" style="left:224.00px;top:240.00px;width:16.00px;height:1.60px;background:#e5cb74"></div>
<div class="s" style="left:224.00px;top:244.30px;width:7.85px;height:3.70px;background:#e5cb74"></div>
<div class="s" style="left:231.85px;top:244.30px;width:8.15px;height:3.70px;background:#9b7276"></div>
<div class="s" style="left:240.00px;top:240.00px;width:16.00px;height:8.00px;background:#ffe9ff"></div>
<div class="s" style="left:240.00px;top:240.00px;width:6.56px;height:1.60px;background:#f4c374"></div>
<div class="s" style="left:246.56px;top:240.00px;width:9.44px;height:1.60px;background:#aa6a76"></div>
<div class="s" style="left:240.00px;top:244.30px;width:16.00px;height:3.70px;background:#aa6a76"></div>
<div class="s" style="left:256.00px;top:240.00px;width:16.00px;height:8.00px;background:#ffe8ff"></div>
<div class="s" style="left:256.00px;top:240.00px;width:15.20px;height:1.60px;background:#ac6976"></div>
<div class="s" style="left:256.00px;top:244.30px;width:15.20px;height:3.70px;background:#ac6976"></div>
<div class="s" style="left:64.00px;top:248.00px;width:16.00px;height:8.00px;background:#d0ffff"></div>
<div class="s" style="left:64.10px;top:248.00px;width:15.90px;height:8.00px;background:#94d2f0"></div>
<div class="s" style="left:160.00px;top:248.00px;width:12.62px;height:8.00px;background:#a3caf0"></div>
<div class="s" style="left:172.62px;top:248.00px;width:3.38px;height:8.00px;background:#a9e974"></div>
<div class="s" style="left:224.00px;top:248.00px;width:7.85px;height:8.00px;background:#fac074"></div>
<div class="s" style="left:231.85px;top:248.00px;width:8.15px;height:8.00px;background:#b06776"></div>
<div class="s" style="left:256.00px;top:248.00px;width:16.00px;height:8.00px;background:#ffdcff"></div>
<div class="s" style="left:256.00px;top:248.00px;width:15.20px;height:8.00px;background:#c25e76"></div>
<div class="s" style="left:64.00px;top:256.00px;width:16.00px;height:8.00px;background:#f6ffff"></div>
<div class="s" style="left:64.10px;top:256.00px;width:15.90px;height:1.60px;background:#babff0"></div>
<div class="s" style="left:80.00px;top:256.00px;width:16.00px;height:8.00px;background:#f6ffff"></div>
<div class="s" style="left:80.00px;top:256.00px;width:16.00px;height:1.60px;background:#babff0"></div>
<div class="s" style="left:96.00px;top:256.00px;width:16.00px;height:8.00px;background:#f6ffff"></div>
<div class="s" style="left:96.00px;top:256.00px;width:16.00px;height:1.60px;background:#babff0"></div>
<div class="s" style="left:112.00px;top:256.00px;width:16.00px;height:8.00px;background:#f6ffff"></div>
<div class="s" style="left:112.00px;top:256.00px;width:16.00px;height:1.60px;background:#babff0"></div>
<div class="s" style="left:128.00px;top:256.00px;width:16.00px;height:8.00px;background:#f6ffff"></div>
<div class="s" style="left:128.00px;top:256.00px;width:16.00px;height:1.60px;background:#babff0"></div>
<div class="s" style="left:144.00px;top:256.00px;width:16.00px;height:8.00px;background:#f6ffff"></div>
<div class="s" style="left:144.00px;top:256.00px;width:16.00px;height:1.60px;background:#babff0"></div>
<div class="s" style="left:160.00px;top:256.00px;width:16.00px;height:8.00px;background:#f9ffff"></div>
<div class="s" style="left:160.00px;top:256.00px;width:12.62px;height:1.60px;background:#bdbdf0"></div>
<div class="s" style="left:172.62px;top:256.00px;width:3.38px;height:1.60px;background:#c3dd74"></div>
<div class="s" style="left:176.00px;top:256.00px;width:16.00px;height:8.00px;background:#fffcff"></div>
<div class="s" style="left:176.00px;top:256.00px;width:16.00px;height:1.60px;background:#ced774"></div>
<div class="s" style="left:192.00px;top:256.00px;width:16.00px;height:8.00px;background:#fffcff"></div>
<div class="s" style="left:192.00px;top:256.00px;width:16.00px;height:1.60px;background:#ced774"></div>
<div class="s" style="left:208.00px;top:256.00px;width:16.00px;height:8.00px;background:#fffcff"></div>
<div class="s" style="left:208.00px;top:256.00px;width:16.00px;height:1.60px;background:#ced774"></div>
<div class="s" style="left:224.00px;top:256.00px;width:16.00px;height:8.00px;background:#fffaff"></div>
<div class="s" style="left:224.00px;top:256.00px;width:7.85px;height:1.60px;background:#d3d474"></div>
<div class="s" style="left:231.85px;top:256.00px;width:8.15px;height:1.60px;background:#887b76"></div>
<div class="s" style="left:240.00px;top:256.00px;width:16.00px;height:8.00px;background:#fff8ff"></div>
<div class="s" style="left:240.00px;top:256.00px;width:16.00px;height:1.60px;background:#8d7976"></div>
<div class="s" style="left:256.00px;top:256.00px;width:16.00px;height:8.00px;background:#fff8ff"></div>
<div class="s" style="left:256.00px;top:256.00px;width:15.20px;height:1.60px;background:#8c7976"></div>
<div class="cl" style="right:492.50px;top:166.45px;font-size:7.0px;transform:scaleX(0.84);">Fruit Coating (N)</div>
<div class="v" style="left:133.17px;top:170.95px;transform:translate(-50%,-50%) scaleX(0.78)">66.7%</div>
<div class="v" style="left:229.37px;top:170.95px;transform:translate(-50%,-50%) scaleX(0.78)">26.2%</div>
<div class="v vr" style="left:263.85px;top:170.95px;transform:translate(-50%,-50%) scaleX(0.78)">7.1%</div>
<div class="cl" style="right:492.50px;top:182.45px;font-size:7.0px;transform:scaleX(0.84);">Mustard Greens (G)</div>
<div class="v" style="left:130.68px;top:186.95px;transform:translate(-50%,-50%) scaleX(0.78)">64.3%</div>
<div class="v" style="left:229.37px;top:186.95px;transform:translate(-50%,-50%) scaleX(0.78)">31.0%</div>
<div class="v vr" style="left:266.33px;top:186.95px;transform:translate(-50%,-50%) rotate(-90deg) scaleX(0.85);font-size:5.6px">4.8%</div>
<div class="cl" style="right:492.50px;top:198.45px;font-size:7.0px;transform:scaleX(0.84);">Flu Vaccine (N)</div>
<div class="v" style="left:130.68px;top:202.95px;transform:translate(-50%,-50%) scaleX(0.78)">64.3%</div>
<div class="v" style="left:226.88px;top:202.95px;transform:translate(-50%,-50%) scaleX(0.78)">28.6%</div>
<div class="v vr" style="left:263.85px;top:202.95px;transform:translate(-50%,-50%) scaleX(0.78)">7.1%</div>
<div class="cl" style="right:492.50px;top:214.45px;font-size:7.0px;transform:scaleX(0.84);">Fertilizer (N)</div>
<div class="v" style="left:123.23px;top:218.95px;transform:translate(-50%,-50%) scaleX(0.78)">57.1%</div>
<div class="v" style="left:221.81px;top:218.95px;transform:translate(-50%,-50%) scaleX(0.78)">38.1%</div>
<div class="v vr" style="left:266.23px;top:218.95px;transform:translate(-50%,-50%) rotate(-90deg) scaleX(0.85);font-size:5.6px">4.8%</div>
<div class="cl" style="right:492.50px;top:230.45px;font-size:7.0px;transform:scaleX(0.84);">Cattle (G)</div>
<div class="v" style="left:125.71px;top:234.95px;transform:translate(-50%,-50%) scaleX(0.78)">59.5%</div>
<div class="v" style="left:216.94px;top:234.95px;transform:translate(-50%,-50%) scaleX(0.78)">28.6%</div>
<div class="v vr" style="left:258.88px;top:234.95px;transform:translate(-50%,-50%) scaleX(0.78)">11.9%</div>
<div class="cl" style="right:492.50px;top:246.45px;font-size:7.0px;transform:scaleX(0.84);">Salmon (G)</div>
<div class="v" style="left:118.36px;top:250.95px;transform:translate(-50%,-50%) scaleX(0.78)">52.4%</div>
<div class="v" style="left:202.24px;top:250.95px;transform:translate(-50%,-50%) scaleX(0.78)">28.6%</div>
<div class="v vr" style="left:251.53px;top:250.95px;transform:translate(-50%,-50%) scaleX(0.78)">19.0%</div>
<div class="a" style="left:112.47px;top:149.19px;font-size:8.84px;font-weight:bold;color:#111;transform-origin:0 0;transform:scaleX(0.8734);-webkit-text-stroke:0.35px #111;">Socially Sustainable</div>
<div class="ax" style="left:64.10px;top:267.20px">0%</div>
<div class="ax" style="left:84.81px;top:267.20px">10%</div>
<div class="ax" style="left:105.52px;top:267.20px">20%</div>
<div class="ax" style="left:126.23px;top:267.20px">30%</div>
<div class="ax" style="left:146.94px;top:267.20px">40%</div>
<div class="ax" style="left:167.65px;top:267.20px">50%</div>
<div class="ax" style="left:188.36px;top:267.20px">60%</div>
<div class="ax" style="left:209.07px;top:267.20px">70%</div>
<div class="ax" style="left:229.78px;top:267.20px">80%</div>
<div class="ax" style="left:250.49px;top:267.20px">90%</div>
<div class="ax" style="left:271.20px;top:267.20px">100%</div>
<div class="s" style="left:347.00px;top:164.80px;width:160.94px;height:13.30px;background:#94d2f0"></div>
<div class="s" style="left:507.94px;top:164.80px;width:22.99px;height:13.30px;background:#e3cc74"></div>
<div class="s" style="left:530.93px;top:164.80px;width:9.27px;height:13.30px;background:#c65c76"></div>
<div class="s" style="left:347.00px;top:180.60px;width:137.94px;height:13.30px;background:#94d2f0"></div>
<div class="s" style="left:484.94px;top:180.60px;width:45.98px;height:13.30px;background:#e3cc74"></div>
<div class="s" style="left:530.93px;top:180.60px;width:9.27px;height:13.30px;background:#c65c76"></div>
<div class="s" style="left:347.00px;top:196.40px;width:137.94px;height:13.30px;background:#94d2f0"></div>
<div class="s" style="left:484.94px;top:196.40px;width:41.34px;height:13.30px;background:#e3cc74"></div>
<div class="s" style="left:526.29px;top:196.40px;width:13.91px;height:13.30px;background:#c65c76"></div>
<div class="s" style="left:347.00px;top:212.20px;width:133.31px;height:13.30px;background:#94d2f0"></div>
<div class="s" style="left:480.31px;top:212.20px;width:41.34px;height:13.30px;background:#e3cc74"></div>
<div class="s" style="left:521.65px;top:212.20px;width:18.55px;height:13.30px;background:#c65c76"></div>
<div class="s" style="left:347.00px;top:228.00px;width:124.23px;height:13.30px;background:#94d2f0"></div>
<div class="s" style="left:471.23px;top:228.00px;width:41.34px;height:13.30px;background:#e3cc74"></div>
<div class="s" style="left:512.57px;top:228.00px;width:27.63px;height:13.30px;background:#c65c76"></div>
<div class="s" style="left:347.00px;top:243.80px;width:114.95px;height:13.30px;background:#94d2f0"></div>
<div class="s" style="left:461.95px;top:243.80px;width:59.89px;height:13.30px;background:#e3cc74"></div>
<div class="s" style="left:521.85px;top:243.80px;width:18.35px;height:13.30px;background:#c65c76"></div>
<div class="s" style="left:336.00px;top:160.00px;width:16.00px;height:8.00px;background:#f9ffff"></div>
<div class="s" style="left:347.00px;top:164.80px;width:5.00px;height:3.20px;background:#bdbdf0"></div>
<div class="s" style="left:352.00px;top:160.00px;width:16.00px;height:8.00px;background:#ecffff"></div>
<div class="s" style="left:352.00px;top:164.80px;width:16.00px;height:3.20px;background:#b0c4f0"></div>
<div class="s" style="left:368.00px;top:160.00px;width:16.00px;height:8.00px;background:#ecffff"></div>
<div class="s" style="left:368.00px;top:164.80px;width:16.00px;height:3.20px;background:#b0c4f0"></div>
<div class="s" style="left:384.00px;top:160.00px;width:16.00px;height:8.00px;background:#ecffff"></div>
<div class="s" style="left:384.00px;top:164.80px;width:16.00px;height:3.20px;background:#b0c4f0"></div>
<div class="s" style="left:400.00px;top:160.00px;width:16.00px;height:8.00px;background:#ecffff"></div>
<div class="s" style="left:400.00px;top:164.80px;width:16.00px;height:3.20px;background:#b0c4f0"></div>
<div class="s" style="left:416.00px;top:160.00px;width:16.00px;height:8.00px;background:#ecffff"></div>
<div class="s" style="left:416.00px;top:164.80px;width:16.00px;height:3.20px;background:#b0c4f0"></div>
<div class="s" style="left:432.00px;top:160.00px;width:16.00px;height:8.00px;background:#ecffff"></div>
<div class="s" style="left:432.00px;top:164.80px;width:16.00px;height:3.20px;background:#b0c4f0"></div>
<div class="s" style="left:448.00px;top:160.00px;width:16.00px;height:8.00px;background:#ecffff"></div>
<div class="s" style="left:448.00px;top:164.80px;width:16.00px;height:3.20px;background:#b0c4f0"></div>
<div class="s" style="left:464.00px;top:160.00px;width:16.00px;height:8.00px;background:#ecffff"></div>
<div class="s" style="left:464.00px;top:164.80px;width:16.00px;height:3.20px;background:#b0c4f0"></div>
<div class="s" style="left:480.00px;top:160.00px;width:16.00px;height:8.00px;background:#ecffff"></div>
<div class="s" style="left:480.00px;top:164.80px;width:16.00px;height:3.20px;background:#b0c4f0"></div>
<div class="s" style="left:496.00px;top:160.00px;width:16.00px;height:8.00px;background:#f4ffff"></div>
<div class="s" style="left:496.00px;top:164.80px;width:11.94px;height:3.20px;background:#b8c0f0"></div>
<div class="s" style="left:507.94px;top:164.80px;width:4.06px;height:3.20px;background:#bedf74"></div>
<div class="s" style="left:512.00px;top:160.00px;width:16.00px;height:8.00px;background:#fffaff"></div>
<div class="s" style="left:512.00px;top:164.80px;width:16.00px;height:3.20px;background:#d3d474"></div>
<div class="s" style="left:528.00px;top:160.00px;width:16.00px;height:8.00px;background:#fff6ff"></div>
<div class="s" style="left:528.00px;top:164.80px;width:2.93px;height:3.20px;background:#dbd074"></div>
<div class="s" style="left:530.93px;top:164.80px;width:9.27px;height:3.20px;background:#917776"></div>
<div class="s" style="left:336.00px;top:168.00px;width:16.00px;height:8.00px;background:#f0ffff"></div>
<div class="s" style="left:347.00px;top:168.00px;width:5.00px;height:8.00px;background:#b4c2f0"></div>
<div class="s" style="left:496.00px;top:168.00px;width:11.94px;height:8.00px;background:#a7c9f0"></div>
<div class="s" style="left:507.94px;top:168.00px;width:4.06px;height:8.00px;background:#ade874"></div>
<div class="s" style="left:528.00px;top:168.00px;width:16.00px;height:8.00px;background:#ffe8ff"></div>
<div class="s" style="left:528.00px;top:168.00px;width:2.93px;height:8.00px;background:#f7c274"></div>
<div class="s" style="left:530.93px;top:168.00px;width:9.27px;height:8.00px;background:#ad6976"></div>
<div class="s" style="left:336.00px;top:176.00px;width:16.00px;height:8.00px;background:#f5ffff"></div>
<div class="s" style="left:347.00px;top:176.00px;width:5.00px;height:2.10px;background:#b9bff0"></div>
<div class="s" style="left:347.00px;top:180.60px;width:5.00px;height:3.40px;background:#b9bff0"></div>
<div class="s" style="left:352.00px;top:176.00px;width:16.00px;height:8.00px;background:#dfffff"></div>
<div class="s" style="left:352.00px;top:176.00px;width:16.00px;height:2.10px;background:#a3cbf0"></div>
<div class="s" style="left:352.00px;top:180.60px;width:16.00px;height:3.40px;background:#a3cbf0"></div>
<div class="s" style="left:368.00px;top:176.00px;width:16.00px;height:8.00px;background:#dfffff"></div>
<div class="s" style="left:368.00px;top:176.00px;width:16.00px;height:2.10px;background:#a3cbf0"></div>
<div class="s" style="left:368.00px;top:180.60px;width:16.00px;height:3.40px;background:#a3cbf0"></div>
<div class="s" style="left:384.00px;top:176.00px;width:16.00px;height:8.00px;background:#dfffff"></div>
<div class="s" style="left:384.00px;top:176.00px;width:16.00px;height:2.10px;background:#a3cbf0"></div>
<div class="s" style="left:384.00px;top:180.60px;width:16.00px;height:3.40px;background:#a3cbf0"></div>
<div class="s" style="left:400.00px;top:176.00px;width:16.00px;height:8.00px;background:#dfffff"></div>
<div class="s" style="left:400.00px;top:176.00px;width:16.00px;height:2.10px;background:#a3cbf0"></div>
<div class="s" style="left:400.00px;top:180.60px;width:16.00px;height:3.40px;background:#a3cbf0"></div>
<div class="s" style="left:416.00px;top:176.00px;width:16.00px;height:8.00px;background:#dfffff"></div>
<div class="s" style="left:416.00px;top:176.00px;width:16.00px;height:2.10px;background:#a3cbf0"></div>
<div class="s" style="left:416.00px;top:180.60px;width:16.00px;height:3.40px;background:#a3cbf0"></div>
<div class="s" style="left:432.00px;top:176.00px;width:16.00px;height:8.00px;background:#dfffff"></div>
<div class="s" style="left:432.00px;top:176.00px;width:16.00px;height:2.10px;background:#a3cbf0"></div>
<div class="s" style="left:432.00px;top:180.60px;width:16.00px;height:3.40px;background:#a3cbf0"></div>
<div class="s" style="left:448.00px;top:176.00px;width:16.00px;height:8.00px;background:#dfffff"></div>
<div class="s" style="left:448.00px;top:176.00px;width:16.00px;height:2.10px;background:#a3cbf0"></div>
<div class="s" style="left:448.00px;top:180.60px;width:16.00px;height:3.40px;background:#a3cbf0"></div>
<div class="s" style="left:464.00px;top:176.00px;width:16.00px;height:8.00px;background:#dfffff"></div>
<div class="s" style="left:464.00px;top:176.00px;width:16.00px;height:2.10px;background:#a3cbf0"></div>
<div class="s" style="left:464.00px;top:180.60px;width:16.00px;height:3.40px;background:#a3cbf0"></div>
<div class="s" style="left:480.00px;top:176.00px;width:16.00px;height:8.00px;background:#f4ffff"></div>
<div class="s" style="left:480.00px;top:176.00px;width:16.00px;height:2.10px;background:#b8c0f0"></div>
<div class="s" style="left:480.00px;top:180.60px;width:4.94px;height:3.40px;background:#b8c0f0"></div>
<div class="s" style="left:484.94px;top:180.60px;width:11.06px;height:3.40px;background:#bedf74"></div>
<div class="s" style="left:496.00px;top:176.00px;width:16.00px;height:8.00px;background:#fffdff"></div>
<div class="s" style="left:496.00px;top:176.00px;width:11.94px;height:2.10px;background:#c7b8f0"></div>
<div class="s" style="left:507.94px;top:176.00px;width:4.06px;height:2.10px;background:#cdd774"></div>
<div class="s" style="left:496.00px;top:180.60px;width:16.00px;height:3.40px;background:#cdd774"></div>
<div class="s" style="left:512.00px;top:176.00px;width:16.00px;height:8.00px;background:#fff6ff"></div>
<div class="s" style="left:512.00px;top:176.00px;width:16.00px;height:2.10px;background:#dbd074"></div>
<div class="s" style="left:512.00px;top:180.60px;width:16.00px;height:3.40px;background:#dbd074"></div>
<div class="s" style="left:528.00px;top:176.00px;width:16.00px;height:8.00px;background:#ffefff"></div>
<div class="s" style="left:528.00px;top:176.00px;width:2.93px;height:2.10px;background:#e9c974"></div>
<div class="s" style="left:530.93px;top:176.00px;width:9.27px;height:2.10px;background:#9e7076"></div>
<div class="s" style="left:528.00px;top:180.60px;width:2.93px;height:3.40px;background:#e9c974"></div>
<div class="s" style="left:530.93px;top:180.60px;width:9.27px;height:3.40px;background:#9e7076"></div>
<div class="s" style="left:336.00px;top:184.00px;width:16.00px;height:8.00px;background:#f0ffff"></div>
<div class="s" style="left:347.00px;top:184.00px;width:5.00px;height:8.00px;background:#b4c2f0"></div>
<div class="s" style="left:480.00px;top:184.00px;width:4.94px;height:8.00px;background:#c6b8f0"></div>
<div class="s" style="left:484.94px;top:184.00px;width:11.06px;height:8.00px;background:#ccd774"></div>
<div class="s" style="left:528.00px;top:184.00px;width:16.00px;height:8.00px;background:#ffe8ff"></div>
<div class="s" style="left:528.00px;top:184.00px;width:2.93px;height:8.00px;background:#f7c274"></div>
<div class="s" style="left:530.93px;top:184.00px;width:9.27px;height:8.00px;background:#ad6976"></div>
<div class="s" style="left:336.00px;top:192.00px;width:16.00px;height:8.00px;background:#f5ffff"></div>
<div class="s" style="left:347.00px;top:192.00px;width:5.00px;height:1.90px;background:#b9bff0"></div>
<div class="s" style="left:347.00px;top:196.40px;width:5.00px;height:3.60px;background:#b9bff0"></div>
<div class="s" style="left:352.00px;top:192.00px;width:16.00px;height:8.00px;background:#dfffff"></div>
<div class="s" style="left:352.00px;top:192.00px;width:16.00px;height:1.90px;background:#a3cbf0"></div>
<div class="s" style="left:352.00px;top:196.40px;width:16.00px;height:3.60px;background:#a3cbf0"></div>
<div class="s" style="left:368.00px;top:192.00px;width:16.00px;height:8.00px;background:#dfffff"></div>
<div class="s" style="left:368.00px;top:192.00px;width:16.00px;height:1.90px;background:#a3cbf0"></div>
<div class="s" style="left:368.00px;top:196.40px;width:16.00px;height:3.60px;background:#a3cbf0"></div>
<div class="s" style="left:384.00px;top:192.00px;width:16.00px;height:8.00px;background:#dfffff"></div>
<div class="s" style="left:384.00px;top:192.00px;width:16.00px;height:1.90px;background:#a3cbf0"></div>
<div class="s" style="left:384.00px;top:196.40px;width:16.00px;height:3.60px;background:#a3cbf0"></div>
<div class="s" style="left:400.00px;top:192.00px;width:16.00px;height:8.00px;background:#dfffff"></div>
<div class="s" style="left:400.00px;top:192.00px;width:16.00px;height:1.90px;background:#a3cbf0"></div>
<div class="s" style="left:400.00px;top:196.40px;width:16.00px;height:3.60px;background:#a3cbf0"></div>
<div class="s" style="left:416.00px;top:192.00px;width:16.00px;height:8.00px;background:#dfffff"></div>
<div class="s" style="left:416.00px;top:192.00px;width:16.00px;height:1.90px;background:#a3cbf0"></div>
<div class="s" style="left:416.00px;top:196.40px;width:16.00px;height:3.60px;background:#a3cbf0"></div>
<div class="s" style="left:432.00px;top:192.00px;width:16.00px;height:8.00px;background:#dfffff"></div>
<div class="s" style="left:432.00px;top:192.00px;width:16.00px;height:1.90px;background:#a3cbf0"></div>
<div class="s" style="left:432.00px;top:196.40px;width:16.00px;height:3.60px;background:#a3cbf0"></div>
<div class="s" style="left:448.00px;top:192.00px;width:16.00px;height:8.00px;background:#dfffff"></div>
<div class="s" style="left:448.00px;top:192.00px;width:16.00px;height:1.90px;background:#a3cbf0"></div>
<div class="s" style="left:448.00px;top:196.40px;width:16.00px;height:3.60px;background:#a3cbf0"></div>
<div class="s" style="left:464.00px;top:192.00px;width:16.00px;height:8.00px;background:#dfffff"></div>
<div class="s" style="left:464.00px;top:192.00px;width:16.00px;height:1.90px;background:#a3cbf0"></div>
<div class="s" style="left:464.00px;top:196.40px;width:16.00px;height:3.60px;background:#a3cbf0"></div>
<div class="s" style="left:480.00px;top:192.00px;width:16.00px;height:8.00px;background:#fffeff"></div>
<div class="s" style="left:480.00px;top:192.00px;width:4.94px;height:1.90px;background:#c5b9f0"></div>
<div class="s" style="left:484.94px;top:192.00px;width:11.06px;height:1.90px;background:#cbd874"></div>
<div class="s" style="left:480.00px;top:196.40px;width:4.94px;height:3.60px;background:#c5b9f0"></div>
<div class="s" style="left:484.94px;top:196.40px;width:11.06px;height:3.60px;background:#cbd874"></div>
<div class="s" style="left:496.00px;top:192.00px;width:16.00px;height:8.00px;background:#fff6ff"></div>
<div class="s" style="left:496.00px;top:192.00px;width:16.00px;height:1.90px;background:#dbd074"></div>
<div class="s" style="left:496.00px;top:196.40px;width:16.00px;height:3.60px;background:#dbd074"></div>
<div class="s" style="left:512.00px;top:192.00px;width:16.00px;height:8.00px;background:#fff5ff"></div>
<div class="s" style="left:512.00px;top:192.00px;width:16.00px;height:1.90px;background:#ddcf74"></div>
<div class="s" style="left:512.00px;top:196.40px;width:14.29px;height:3.60px;background:#ddcf74"></div>
<div class="s" style="left:526.29px;top:196.40px;width:1.71px;height:3.60px;background:#937676"></div>
<div class="s" style="left:528.00px;top:192.00px;width:16.00px;height:8.00px;background:#ffedff"></div>
<div class="s" style="left:528.00px;top:192.00px;width:2.93px;height:1.90px;background:#ecc774"></div>
<div class="s" style="left:530.93px;top:192.00px;width:9.27px;height:1.90px;background:#a26e76"></div>
<div class="s" style="left:528.00px;top:196.40px;width:12.20px;height:3.60px;background:#a26e76"></div>
<div class="s" style="left:336.00px;top:200.00px;width:16.00px;height:8.00px;background:#f0ffff"></div>
<div class="s" style="left:347.00px;top:200.00px;width:5.00px;height:8.00px;background:#b4c2f0"></div>
<div class="s" style="left:480.00px;top:200.00px;width:4.94px;height:8.00px;background:#c6b8f0"></div>
<div class="s" style="left:484.94px;top:200.00px;width:11.06px;height:8.00px;background:#ccd774"></div>
<div class="s" style="left:512.00px;top:200.00px;width:14.29px;height:8.00px;background:#e8ca74"></div>
<div class="s" style="left:526.29px;top:200.00px;width:1.71px;height:8.00px;background:#9e7176"></div>
<div class="s" style="left:528.00px;top:200.00px;width:16.00px;height:8.00px;background:#ffe3ff"></div>
<div class="s" style="left:528.00px;top:200.00px;width:12.20px;height:8.00px;background:#b56576"></div>
<div class="s" style="left:336.00px;top:208.00px;width:16.00px;height:8.00px;background:#f5ffff"></div>
<div class="s" style="left:347.00px;top:208.00px;width:5.00px;height:1.70px;background:#b9bff0"></div>
<div class="s" style="left:347.00px;top:212.20px;width:5.00px;height:3.80px;background:#b9bff0"></div>
<div class="s" style="left:352.00px;top:208.00px;width:16.00px;height:8.00px;background:#dfffff"></div>
<div class="s" style="left:352.00px;top:208.00px;width:16.00px;height:1.70px;background:#a3cbf0"></div>
<div class="s" style="left:352.00px;top:212.20px;width:16.00px;height:3.80px;background:#a3cbf0"></div>
<div class="s" style="left:368.00px;top:208.00px;width:16.00px;height:8.00px;background:#dfffff"></div>
<div class="s" style="left:368.00px;top:208.00px;width:16.00px;height:1.70px;background:#a3cbf0"></div>
<div class="s" style="left:368.00px;top:212.20px;width:16.00px;height:3.80px;background:#a3cbf0"></div>
<div class="s" style="left:384.00px;top:208.00px;width:16.00px;height:8.00px;background:#dfffff"></div>
<div class="s" style="left:384.00px;top:208.00px;width:16.00px;height:1.70px;background:#a3cbf0"></div>
<div class="s" style="left:384.00px;top:212.20px;width:16.00px;height:3.80px;background:#a3cbf0"></div>
<div class="s" style="left:400.00px;top:208.00px;width:16.00px;height:8.00px;background:#dfffff"></div>
<div class="s" style="left:400.00px;top:208.00px;width:16.00px;height:1.70px;background:#a3cbf0"></div>
<div class="s" style="left:400.00px;top:212.20px;width:16.00px;height:3.80px;background:#a3cbf0"></div>
<div class="s" style="left:416.00px;top:208.00px;width:16.00px;height:8.00px;background:#dfffff"></div>
<div class="s" style="left:416.00px;top:208.00px;width:16.00px;height:1.70px;background:#a3cbf0"></div>
<div class="s" style="left:416.00px;top:212.20px;width:16.00px;height:3.80px;background:#a3cbf0"></div>
<div class="s" style="left:432.00px;top:208.00px;width:16.00px;height:8.00px;background:#dfffff"></div>
<div class="s" style="left:432.00px;top:208.00px;width:16.00px;height:1.70px;background:#a3cbf0"></div>
<div class="s" style="left:432.00px;top:212.20px;width:16.00px;height:3.80px;background:#a3cbf0"></div>
<div class="s" style="left:448.00px;top:208.00px;width:16.00px;height:8.00px;background:#dfffff"></div>
<div class="s" style="left:448.00px;top:208.00px;width:16.00px;height:1.70px;background:#a3cbf0"></div>
<div class="s" style="left:448.00px;top:212.20px;width:16.00px;height:3.80px;background:#a3cbf0"></div>
<div class="s" style="left:464.00px;top:208.00px;width:16.00px;height:8.00px;background:#dfffff"></div>
<div class="s" style="left:464.00px;top:208.00px;width:16.00px;height:1.70px;background:#a3cbf0"></div>
<div class="s" style="left:464.00px;top:212.20px;width:16.00px;height:3.80px;background:#a3cbf0"></div>
<div class="s" style="left:480.00px;top:208.00px;width:16.00px;height:8.00px;background:#fff9ff"></div>
<div class="s" style="left:480.00px;top:208.00px;width:4.94px;height:1.70px;background:#cfb4f0"></div>
<div class="s" style="left:484.94px;top:208.00px;width:11.06px;height:1.70px;background:#d5d374"></div>
<div class="s" style="left:480.00px;top:212.20px;width:0.31px;height:3.80px;background:#cfb4f0"></div>
<div class="s" style="left:480.31px;top:212.20px;width:15.69px;height:3.80px;background:#d5d374"></div>
<div class="s" style="left:496.00px;top:208.00px;width:16.00px;height:8.00px;background:#fff6ff"></div>
<div class="s" style="left:496.00px;top:208.00px;width:16.00px;height:1.70px;background:#dbd074"></div>
<div class="s" style="left:496.00px;top:212.20px;width:16.00px;height:3.80px;background:#dbd074"></div>
<div class="s" style="left:512.00px;top:208.00px;width:16.00px;height:8.00px;background:#fff1ff"></div>
<div class="s" style="left:512.00px;top:208.00px;width:14.29px;height:1.70px;background:#e4cb74"></div>
<div class="s" style="left:526.29px;top:208.00px;width:1.71px;height:1.70px;background:#9a7276"></div>
<div class="s" style="left:512.00px;top:212.20px;width:9.65px;height:3.80px;background:#e4cb74"></div>
<div class="s" style="left:521.65px;top:212.20px;width:6.35px;height:3.80px;background:#9a7276"></div>
<div class="s" style="left:528.00px;top:208.00px;width:16.00px;height:8.00px;background:#ffecff"></div>
<div class="s" style="left:528.00px;top:208.00px;width:12.20px;height:1.70px;background:#a46d76"></div>
<div class="s" style="left:528.00px;top:212.20px;width:12.20px;height:3.80px;background:#a46d76"></div>
<div class="s" style="left:336.00px;top:216.00px;width:16.00px;height:8.00px;background:#f0ffff"></div>
<div class="s" style="left:347.00px;top:216.00px;width:5.00px;height:8.00px;background:#b4c2f0"></div>
<div class="s" style="left:480.00px;top:216.00px;width:0.31px;height:8.00px;background:#dcaef0"></div>
<div class="s" style="left:480.31px;top:216.00px;width:15.69px;height:8.00px;background:#e2cd74"></div>
<div class="s" style="left:512.00px;top:216.00px;width:9.65px;height:8.00px;background:#f5c374"></div>
<div class="s" style="left:521.65px;top:216.00px;width:6.35px;height:8.00px;background:#ab6a76"></div>
<div class="s" style="left:528.00px;top:216.00px;width:16.00px;height:8.00px;background:#ffe3ff"></div>
<div class="s" style="left:528.00px;top:216.00px;width:12.20px;height:8.00px;background:#b56576"></div>
<div class="s" style="left:336.00px;top:224.00px;width:16.00px;height:8.00px;background:#f5ffff"></div>
<div class="s" style="left:347.00px;top:224.00px;width:5.00px;height:1.50px;background:#b9bff0"></div>
<div class="s" style="left:347.00px;top:228.00px;width:5.00px;height:4.00px;background:#b9bff0"></div>
<div class="s" style="left:352.00px;top:224.00px;width:16.00px;height:8.00px;background:#dfffff"></div>
<div class="s" style="left:352.00px;top:224.00px;width:16.00px;height:1.50px;background:#a3cbf0"></div>
<div class="s" style="left:352.00px;top:228.00px;width:16.00px;height:4.00px;background:#a3cbf0"></div>
<div class="s" style="left:368.00px;top:224.00px;width:16.00px;height:8.00px;background:#dfffff"></div>
<div class="s" style="left:368.00px;top:224.00px;width:16.00px;height:1.50px;background:#a3cbf0"></div>
<div class="s" style="left:368.00px;top:228.00px;width:16.00px;height:4.00px;background:#a3cbf0"></div>
<div class="s" style="left:384.00px;top:224.00px;width:16.00px;height:8.00px;background:#dfffff"></div>
<div class="s" style="left:384.00px;top:224.00px;width:16.00px;height:1.50px;background:#a3cbf0"></div>
<div class="s" style="left:384.00px;top:228.00px;width:16.00px;height:4.00px;background:#a3cbf0"></div>
<div class="s" style="left:400.00px;top:224.00px;width:16.00px;height:8.00px;background:#dfffff"></div>
<div class="s" style="left:400.00px;top:224.00px;width:16.00px;height:1.50px;background:#a3cbf0"></div>
<div class="s" style="left:400.00px;top:228.00px;width:16.00px;height:4.00px;background:#a3cbf0"></div>
<div class="s" style="left:416.00px;top:224.00px;width:16.00px;height:8.00px;background:#dfffff"></div>
<div class="s" style="left:416.00px;top:224.00px;width:16.00px;height:1.50px;background:#a3cbf0"></div>
<div class="s" style="left:416.00px;top:228.00px;width:16.00px;height:4.00px;background:#a3cbf0"></div>
<div class="s" style="left:432.00px;top:224.00px;width:16.00px;height:8.00px;background:#dfffff"></div>
<div class="s" style="left:432.00px;top:224.00px;width:16.00px;height:1.50px;background:#a3cbf0"></div>
<div class="s" style="left:432.00px;top:228.00px;width:16.00px;height:4.00px;background:#a3cbf0"></div>
<div class="s" style="left:448.00px;top:224.00px;width:16.00px;height:8.00px;background:#dfffff"></div>
<div class="s" style="left:448.00px;top:224.00px;width:16.00px;height:1.50px;background:#a3cbf0"></div>
<div class="s" style="left:448.00px;top:228.00px;width:16.00px;height:4.00px;background:#a3cbf0"></div>
<div class="s" style="left:464.00px;top:224.00px;width:16.00px;height:8.00px;background:#f3ffff"></div>
<div class="s" style="left:464.00px;top:224.00px;width:16.00px;height:1.50px;background:#b7c0f0"></div>
<div class="s" style="left:464.00px;top:228.00px;width:7.23px;height:4.00px;background:#b7c0f0"></div>
<div class="s" style="left:471.23px;top:228.00px;width:8.77px;height:4.00px;background:#bde074"></div>
<div class="s" style="left:480.00px;top:224.00px;width:16.00px;height:8.00px;background:#fff6ff"></div>
<div class="s" style="left:480.00px;top:224.00px;width:0.31px;height:1.50px;background:#d5b1f0"></div>
<div class="s" style="left:480.31px;top:224.00px;width:15.69px;height:1.50px;background:#dbd074"></div>
<div class="s" style="left:480.00px;top:228.00px;width:16.00px;height:4.00px;background:#dbd074"></div>
<div class="s" style="left:496.00px;top:224.00px;width:16.00px;height:8.00px;background:#fff6ff"></div>
<div class="s" style="left:496.00px;top:224.00px;width:16.00px;height:1.50px;background:#dbd074"></div>
<div class="s" style="left:496.00px;top:228.00px;width:16.00px;height:4.00px;background:#dbd074"></div>
<div class="s" style="left:512.00px;top:224.00px;width:16.00px;height:8.00px;background:#ffe9ff"></div>
<div class="s" style="left:512.00px;top:224.00px;width:9.65px;height:1.50px;background:#f4c374"></div>
<div class="s" style="left:521.65px;top:224.00px;width:6.35px;height:1.50px;background:#aa6a76"></div>
<div class="s" style="left:512.00px;top:228.00px;width:0.57px;height:4.00px;background:#f4c374"></div>
<div class="s" style="left:512.57px;top:228.00px;width:15.43px;height:4.00px;background:#aa6a76"></div>
<div class="s" style="left:528.00px;top:224.00px;width:16.00px;height:8.00px;background:#ffecff"></div>
<div class="s" style="left:528.00px;top:224.00px;width:12.20px;height:1.50px;background:#a46d76"></div>
<div class="s" style="left:528.00px;top:228.00px;width:12.20px;height:4.00px;background:#a46d76"></div>
<div class="s" style="left:336.00px;top:232.00px;width:16.00px;height:8.00px;background:#f0ffff"></div>
<div class="s" style="left:347.00px;top:232.00px;width:5.00px;height:8.00px;background:#b4c2f0"></div>
<div class="s" style="left:464.00px;top:232.00px;width:7.23px;height:8.00px;background:#bcbef0"></div>
<div class="s" style="left:471.23px;top:232.00px;width:8.77px;height:8.00px;background:#c2dd74"></div>
<div class="s" style="left:512.00px;top:232.00px;width:0.57px;height:8.00px;background:#ffb674"></div>
<div class="s" style="left:512.57px;top:232.00px;width:15.43px;height:8.00px;background:#c45d76"></div>
<div class="s" style="left:528.00px;top:232.00px;width:16.00px;height:8.00px;background:#ffe3ff"></div>
<div class="s" style="left:528.00px;top:232.00px;width:12.20px;height:8.00px;background:#b56576"></div>
<div class="s" style="left:336.00px;top:240.00px;width:16.00px;height:8.00px;background:#f5ffff"></div>
<div class="s" style="left:347.00px;top:240.00px;width:5.00px;height:1.30px;background:#b9bff0"></div>
<div class="s" style="left:347.00px;top:243.80px;width:5.00px;height:4.20px;background:#b9bff0"></div>
<div class="s" style="left:352.00px;top:240.00px;width:16.00px;height:8.00px;background:#dfffff"></div>
<div class="s" style="left:352.00px;top:240.00px;width:16.00px;height:1.30px;background:#a3cbf0"></div>
<div class="s" style="left:352.00px;top:243.80px;width:16.00px;height:4.20px;background:#a3cbf0"></div>
<div class="s" style="left:368.00px;top:240.00px;width:16.00px;height:8.00px;background:#dfffff"></div>
<div class="s" style="left:368.00px;top:240.00px;width:16.00px;height:1.30px;background:#a3cbf0"></div>
<div class="s" style="left:368.00px;top:243.80px;width:16.00px;height:4.20px;background:#a3cbf0"></div>
<div class="s" style="left:384.00px;top:240.00px;width:16.00px;height:8.00px;background:#dfffff"></div>
<div class="s" style="left:384.00px;top:240.00px;width:16.00px;height:1.30px;background:#a3cbf0"></div>
<div class="s" style="left:384.00px;top:243.80px;width:16.00px;height:4.20px;background:#a3cbf0"></div>
<div class="s" style="left:400.00px;top:240.00px;width:16.00px;height:8.00px;background:#dfffff"></div>
<div class="s" style="left:400.00px;top:240.00px;width:16.00px;height:1.30px;background:#a3cbf0"></div>
<div class="s" style="left:400.00px;top:243.80px;width:16.00px;height:4.20px;background:#a3cbf0"></div>
<div class="s" style="left:416.00px;top:240.00px;width:16.00px;height:8.00px;background:#dfffff"></div>
<div class="s" style="left:416.00px;top:240.00px;width:16.00px;height:1.30px;background:#a3cbf0"></div>
<div class="s" style="left:416.00px;top:243.80px;width:16.00px;height:4.20px;background:#a3cbf0"></div>
<div class="s" style="left:432.00px;top:240.00px;width:16.00px;height:8.00px;background:#dfffff"></div>
<div class="s" style="left:432.00px;top:240.00px;width:16.00px;height:1.30px;background:#a3cbf0"></div>
<div class="s" style="left:432.00px;top:243.80px;width:16.00px;height:4.20px;background:#a3cbf0"></div>
<div class="s" style="left:448.00px;top:240.00px;width:16.00px;height:8.00px;background:#e4ffff"></div>
<div class="s" style="left:448.00px;top:240.00px;width:16.00px;height:1.30px;background:#a8c8f0"></div>
<div class="s" style="left:448.00px;top:243.80px;width:13.95px;height:4.20px;background:#a8c8f0"></div>
<div class="s" style="left:461.95px;top:243.80px;width:2.05px;height:4.20px;background:#aee774"></div>
<div class="s" style="left:464.00px;top:240.00px;width:16.00px;height:8.00px;background:#fff9ff"></div>
<div class="s" style="left:464.00px;top:240.00px;width:7.23px;height:1.30px;background:#d0b4f0"></div>
<div class="s" style="left:471.23px;top:240.00px;width:8.77px;height:1.30px;background:#d5d374"></div>
<div class="s" style="left:464.00px;top:243.80px;width:16.00px;height:4.20px;background:#d5d374"></div>
<div class="s" style="left:480.00px;top:240.00px;width:16.00px;height:8.00px;background:#fff6ff"></div>
<div class="s" style="left:480.00px;top:240.00px;width:16.00px;height:1.30px;background:#dbd074"></div>
<div class="s" style="left:480.00px;top:243.80px;width:16.00px;height:4.20px;background:#dbd074"></div>
<div class="s" style="left:496.00px;top:240.00px;width:16.00px;height:8.00px;background:#fff6ff"></div>
<div class="s" style="left:496.00px;top:240.00px;width:16.00px;height:1.30px;background:#dbd074"></div>
<div class="s" style="left:496.00px;top:243.80px;width:16.00px;height:4.20px;background:#dbd074"></div>
<div class="s" style="left:512.00px;top:240.00px;width:16.00px;height:8.00px;background:#ffeeff"></div>
<div class="s" style="left:512.00px;top:240.00px;width:0.57px;height:1.30px;background:#ebc874"></div>
<div class="s" style="left:512.57px;top:240.00px;width:15.43px;height:1.30px;background:#a16f76"></div>
<div class="s" style="left:512.00px;top:243.80px;width:9.85px;height:4.20px;background:#ebc874"></div>
<div class="s" style="left:521.85px;top:243.80px;width:6.15px;height:4.20px;background:#a16f76"></div>
<div class="s" style="left:528.00px;top:240.00px;width:16.00px;height:8.00px;background:#ffecff"></div>
<div class="s" style="left:528.00px;top:240.00px;width:12.20px;height:1.30px;background:#a46d76"></div>
<div class="s" style="left:528.00px;top:243.80px;width:12.20px;height:4.20px;background:#a46d76"></div>
<div class="s" style="left:336.00px;top:248.00px;width:16.00px;height:8.00px;background:#f0ffff"></div>
<div class="s" style="left:347.00px;top:248.00px;width:5.00px;height:8.00px;background:#b4c2f0"></div>
<div class="s" style="left:448.00px;top:248.00px;width:13.95px;height:8.00px;background:#9dcdf0"></div>
<div class="s" style="left:461.95px;top:248.00px;width:2.05px;height:8.00px;background:#a3ec74"></div>
<div class="s" style="left:512.00px;top:248.00px;width:9.85px;height:8.00px;background:#f4c374"></div>
<div class="s" style="left:521.85px;top:248.00px;width:6.15px;height:8.00px;background:#aa6a76"></div>
<div class="s" style="left:528.00px;top:248.00px;width:16.00px;height:8.00px;background:#ffe3ff"></div>
<div class="s" style="left:528.00px;top:248.00px;width:12.20px;height:8.00px;background:#b56576"></div>
<div class="s" style="left:336.00px;top:256.00px;width:16.00px;height:8.00px;background:#fdffff"></div>
<div class="s" style="left:347.00px;top:256.00px;width:5.00px;height:1.10px;background:#c1bbf0"></div>
<div class="s" style="left:352.00px;top:256.00px;width:16.00px;height:8.00px;background:#f9ffff"></div>
<div class="s" style="left:352.00px;top:256.00px;width:16.00px;height:1.10px;background:#bcbdf0"></div>
<div class="s" style="left:368.00px;top:256.00px;width:16.00px;height:8.00px;background:#f9ffff"></div>
<div class="s" style="left:368.00px;top:256.00px;width:16.00px;height:1.10px;background:#bcbdf0"></div>
<div class="s" style="left:384.00px;top:256.00px;width:16.00px;height:8.00px;background:#f9ffff"></div>
<div class="s" style="left:384.00px;top:256.00px;width:16.00px;height:1.10px;background:#bcbdf0"></div>
<div class="s" style="left:400.00px;top:256.00px;width:16.00px;height:8.00px;background:#f9ffff"></div>
<div class="s" style="left:400.00px;top:256.00px;width:16.00px;height:1.10px;background:#bcbdf0"></div>
<div class="s" style="left:416.00px;top:256.00px;width:16.00px;height:8.00px;background:#f9ffff"></div>
<div class="s" style="left:416.00px;top:256.00px;width:16.00px;height:1.10px;background:#bcbdf0"></div>
<div class="s" style="left:432.00px;top:256.00px;width:16.00px;height:8.00px;background:#f9ffff"></div>
<div class="s" style="left:432.00px;top:256.00px;width:16.00px;height:1.10px;background:#bcbdf0"></div>
<div class="s" style="left:448.00px;top:256.00px;width:16.00px;height:8.00px;background:#faffff"></div>
<div class="s" style="left:448.00px;top:256.00px;width:13.95px;height:1.10px;background:#bebdf0"></div>
<div class="s" style="left:461.95px;top:256.00px;width:2.05px;height:1.10px;background:#c4dc74"></div>
<div class="s" style="left:464.00px;top:256.00px;width:16.00px;height:8.00px;background:#fffdff"></div>
<div class="s" style="left:464.00px;top:256.00px;width:16.00px;height:1.10px;background:#ccd774"></div>
<div class="s" style="left:480.00px;top:256.00px;width:16.00px;height:8.00px;background:#fffdff"></div>
<div class="s" style="left:480.00px;top:256.00px;width:16.00px;height:1.10px;background:#ccd774"></div>
<div class="s" style="left:496.00px;top:256.00px;width:16.00px;height:8.00px;background:#fffdff"></div>
<div class="s" style="left:496.00px;top:256.00px;width:16.00px;height:1.10px;background:#ccd774"></div>
<div class="s" style="left:512.00px;top:256.00px;width:16.00px;height:8.00px;background:#fffcff"></div>
<div class="s" style="left:512.00px;top:256.00px;width:9.85px;height:1.10px;background:#cfd674"></div>
<div class="s" style="left:521.85px;top:256.00px;width:6.15px;height:1.10px;background:#857d76"></div>
<div class="s" style="left:528.00px;top:256.00px;width:16.00px;height:8.00px;background:#fffbff"></div>
<div class="s" style="left:528.00px;top:256.00px;width:12.20px;height:1.10px;background:#867d76"></div>
<div class="cl" style="right:209.60px;top:167.55px;font-size:7.0px;transform:scaleX(0.8);">Flu Vaccine (N)</div>
<div class="v" style="left:427.47px;top:171.45px;transform:translate(-50%,-50%) scaleX(0.78)">83.3%</div>
<div class="v" style="left:519.43px;top:171.45px;transform:translate(-50%,-50%) scaleX(0.78)">11.9%</div>
<div class="v vr" style="left:535.56px;top:171.45px;transform:translate(-50%,-50%) rotate(-90deg) scaleX(0.85);font-size:5.6px">4.8%</div>
<div class="cl" style="right:209.60px;top:183.35px;font-size:7.0px;transform:scaleX(0.8);">Fruit Coating (N)</div>
<div class="v" style="left:415.97px;top:187.25px;transform:translate(-50%,-50%) scaleX(0.78)">71.4%</div>
<div class="v" style="left:507.94px;top:187.25px;transform:translate(-50%,-50%) scaleX(0.78)">23.8%</div>
<div class="v vr" style="left:535.56px;top:187.25px;transform:translate(-50%,-50%) rotate(-90deg) scaleX(0.85);font-size:5.6px">4.8%</div>
<div class="cl" style="right:209.60px;top:199.15px;font-size:7.0px;transform:scaleX(0.8);">Fertilizer (N)</div>
<div class="v" style="left:415.97px;top:203.05px;transform:translate(-50%,-50%) scaleX(0.78)">71.4%</div>
<div class="v" style="left:505.62px;top:203.05px;transform:translate(-50%,-50%) scaleX(0.78)">21.4%</div>
<div class="v vr" style="left:533.24px;top:203.05px;transform:translate(-50%,-50%) scaleX(0.78)">7.1%</div>
<div class="cl" style="right:209.60px;top:214.95px;font-size:7.0px;transform:scaleX(0.8);">Cattle (G)</div>
<div class="v" style="left:413.65px;top:218.85px;transform:translate(-50%,-50%) scaleX(0.78)">69.0%</div>
<div class="v" style="left:500.98px;top:218.85px;transform:translate(-50%,-50%) scaleX(0.78)">21.4%</div>
<div class="v vr" style="left:530.93px;top:218.85px;transform:translate(-50%,-50%) scaleX(0.78)">9.5%</div>
<div class="cl" style="right:209.60px;top:230.75px;font-size:7.0px;transform:scaleX(0.8);">Salmon (G)</div>
<div class="v" style="left:409.11px;top:234.65px;transform:translate(-50%,-50%) scaleX(0.78)">64.3%</div>
<div class="v" style="left:491.90px;top:234.65px;transform:translate(-50%,-50%) scaleX(0.78)">21.4%</div>
<div class="v vr" style="left:526.39px;top:234.65px;transform:translate(-50%,-50%) scaleX(0.78)">14.3%</div>
<div class="cl" style="right:209.60px;top:246.55px;font-size:7.0px;transform:scaleX(0.8);">Mustard Greens (G)</div>
<div class="v" style="left:404.48px;top:250.45px;transform:translate(-50%,-50%) scaleX(0.78)">59.5%</div>
<div class="v" style="left:491.90px;top:250.45px;transform:translate(-50%,-50%) scaleX(0.78)">31.0%</div>
<div class="v vr" style="left:531.02px;top:250.45px;transform:translate(-50%,-50%) scaleX(0.78)">9.5%</div>
<div class="a" style="left:407.40px;top:148.91px;font-size:8.70px;font-weight:bold;color:#111;transform-origin:0 0;transform:scaleX(0.8290);-webkit-text-stroke:0.35px #111;">Responsible</div>
<div class="ax" style="left:347.00px;top:266.40px">0%</div>
<div class="ax" style="left:366.32px;top:266.40px">10%</div>
<div class="ax" style="left:385.64px;top:266.40px">20%</div>
<div class="ax" style="left:404.96px;top:266.40px">30%</div>
<div class="ax" style="left:424.28px;top:266.40px">40%</div>
<div class="ax" style="left:443.60px;top:266.40px">50%</div>
<div class="ax" style="left:462.92px;top:266.40px">60%</div>
<div class="ax" style="left:482.24px;top:266.40px">70%</div>
<div class="ax" style="left:501.56px;top:266.40px">80%</div>
<div class="ax" style="left:520.88px;top:266.40px">90%</div>
<div class="ax" style="left:540.20px;top:266.40px">100%</div>
</div></body></html>
